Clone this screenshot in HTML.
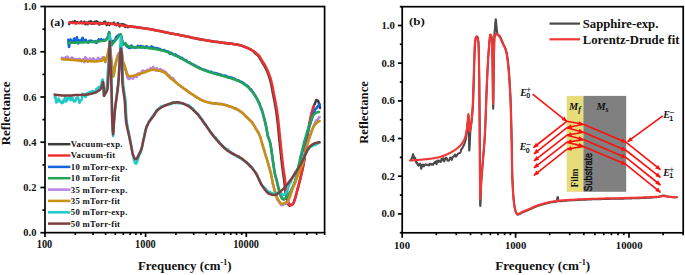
<!DOCTYPE html>
<html><head><meta charset="utf-8"><title>Reflectance spectra</title>
<style>
html,body{margin:0;padding:0;background:#fff;}
body{width:685px;height:275px;overflow:hidden;font-family:"Liberation Serif",serif;}
svg{display:block;}
svg text{font-family:"Liberation Serif",serif;font-weight:bold;fill:#111;}
</style></head><body>
<svg width="685" height="275" viewBox="0 0 685 275">
<rect width="685" height="275" fill="#fff"/>

<!-- ================= panel (a) ================= -->
<g fill="none" stroke-linejoin="round" stroke-linecap="round" stroke-width="2.5">
<path d="M69.2,24.0 L69.5,23.2 L69.9,22.3 L70.2,22.2 L70.6,22.4 L70.9,22.6 L71.3,22.8 L71.6,22.8 L72.0,22.4 L72.3,21.9 L72.7,22.1 L73.0,22.4 L73.4,22.6 L73.7,22.6 L74.1,22.4 L74.4,21.7 L74.8,21.0 L75.1,22.1 L75.5,23.2 L75.8,23.4 L76.2,23.3 L76.5,23.0 L76.9,22.5 L77.2,22.1 L77.6,22.3 L77.9,22.5 L78.3,22.7 L78.6,23.0 L79.0,23.0 L79.3,22.7 L79.7,22.5 L80.0,22.5 L80.4,22.5 L80.7,22.0 L81.1,21.5 L81.4,22.0 L81.8,22.8 L82.1,23.2 L82.5,23.0 L82.8,22.9 L83.2,22.9 L83.5,23.0 L83.9,22.4 L84.2,21.7 L84.6,22.1 L84.9,23.4 L85.3,24.1 L85.6,23.5 L86.0,23.0 L86.3,22.7 L86.7,22.5 L87.0,23.2 L87.4,24.1 L87.7,24.3 L88.1,23.5 L88.4,22.7 L88.8,22.2 L89.1,21.7 L89.5,21.9 L89.8,22.4 L90.0,22.5 L90.2,22.1 L90.5,21.4 L90.9,21.2 L91.2,22.6 L91.6,23.9 L91.9,23.3 L92.3,22.7 L92.6,22.5 L93.0,22.4 L93.3,22.6 L93.7,23.3 L94.0,23.8 L94.4,22.7 L94.7,21.7 L95.1,22.3 L95.4,23.1 L95.8,22.9 L96.1,21.9 L96.5,21.3 L96.8,21.9 L97.2,22.4 L97.5,22.2 L97.9,22.0 L98.2,22.7 L98.6,23.8 L98.9,24.4 L99.3,24.6 L99.6,24.6 L100.0,23.7 L100.3,22.9 L100.7,23.2 L101.0,23.7 L101.4,23.7 L101.7,23.3 L102.1,23.1 L102.4,23.4 L102.8,23.7 L103.1,23.2 L103.5,22.7 L103.8,22.3 L104.2,21.9 L104.5,21.7 L104.9,21.6 L105.2,21.7 L105.6,22.6 L105.9,23.5 L106.3,24.3 L106.6,25.0 L107.0,24.9 L107.3,24.1 L107.7,23.5 L108.0,23.2 L108.4,22.9 L108.7,23.9 L109.1,24.8 L109.3,24.9 L109.4,24.7 L109.8,24.0 L110.1,23.6 L110.5,23.6 L110.8,23.6 L111.2,23.7 L111.5,23.8 L111.9,23.7 L112.2,23.6 L112.6,23.5 L112.9,23.5 L113.3,23.4 L113.6,23.0 L114.0,22.6 L114.3,23.4 L114.7,24.2 L115.0,24.3 L115.4,24.2 L115.7,24.3 L116.1,24.9 L116.4,25.3 L116.8,24.7 L117.1,24.2 L117.5,23.6 L117.8,23.1 L118.2,23.3 L118.5,24.1 L118.9,24.8 L119.2,25.6 L119.6,26.4 L119.9,25.6 L120.3,24.8 L120.6,24.5 L121.0,24.4 L121.3,24.2 L121.7,24.2 L122.0,24.1 L122.1,24.1 L122.4,24.2 L122.7,24.3 L123.1,24.6 L123.4,25.0 L123.8,24.9 L124.1,24.6 L124.5,24.7 L124.8,25.8 L125.2,26.9 L125.5,26.3 L125.9,25.6 L126.2,25.5 L126.6,25.7 L126.9,26.1 L127.3,26.7 L127.6,27.1 L128.0,27.2 L128.3,26.4 L128.7,26.4 L129.0,26.3 L129.4,26.3 L129.7,26.4 L130.1,26.5 L130.4,26.5 L130.8,26.6 L131.1,26.6 L131.5,26.6 L131.8,26.5 L132.2,26.4 L132.5,26.5 L132.9,26.7 L133.2,26.9 L133.6,26.9 L133.9,27.0 L134.3,27.0 L134.6,27.0 L135.0,27.0 L135.0,27.0 L135.3,27.0 L135.7,27.0 L136.0,27.1 L136.4,27.2 L136.7,27.2 L137.1,27.2 L137.4,27.2 L137.8,27.3 L138.1,27.4 L138.5,27.6 L138.8,27.7 L139.2,27.8 L139.5,27.8 L139.9,27.8 L140.2,27.8 L140.6,27.9 L140.9,27.9 L141.3,27.9 L141.6,28.0 L142.0,28.1 L142.3,28.1 L142.7,28.1 L143.0,28.1 L143.4,28.2 L143.7,28.2 L144.1,28.2 L144.4,28.2 L144.8,28.3 L145.1,28.4 L145.5,28.6 L145.8,28.8 L146.2,28.9 L146.5,28.8 L146.9,28.8 L147.2,28.8 L147.6,28.8 L147.9,28.8 L148.3,28.9 L148.6,28.9 L149.0,28.9 L149.3,29.0 L149.7,29.1 L150.0,29.3 L150.0,29.3 L150.4,29.3 L150.7,29.4 L151.1,29.3 L151.4,29.3 L151.8,29.4 L152.1,29.6 L152.5,29.7 L152.8,29.7 L153.2,29.7 L153.5,29.9 L153.9,30.1 L154.2,30.1 L154.6,30.1 L154.9,30.2 L155.3,30.3 L155.6,30.5 L156.0,30.4 L156.3,30.3 L156.7,30.4 L157.0,30.5 L157.4,30.6 L157.7,30.7 L158.1,30.8 L158.4,30.9 L158.8,31.0 L159.1,31.1 L159.5,31.1 L159.8,31.1 L160.2,31.0 L160.5,31.1 L160.9,31.2 L161.2,31.4 L161.6,31.5 L161.9,31.5 L162.3,31.6 L162.6,31.6 L163.0,31.7 L163.3,31.7 L163.7,31.8 L164.0,32.1 L164.4,32.3 L164.7,32.2 L165.1,32.2 L165.4,32.2 L165.8,32.2 L166.1,32.3 L166.5,32.5 L166.8,32.6 L167.2,32.7 L167.5,32.7 L167.9,32.7 L168.2,32.8 L168.2,32.8 L168.6,32.9 L168.9,33.0 L169.3,33.1 L169.6,33.2 L170.0,33.2 L170.3,33.3 L170.7,33.4 L171.0,33.5 L171.4,33.6 L171.7,33.6 L172.1,33.7 L172.4,33.7 L172.8,33.7 L173.1,33.7 L173.5,33.8 L173.8,33.9 L174.2,33.9 L174.5,34.0 L174.9,34.1 L175.2,34.2 L175.6,34.3 L175.9,34.3 L176.3,34.3 L176.6,34.3 L177.0,34.3 L177.3,34.4 L177.7,34.6 L178.0,34.8 L178.4,34.8 L178.7,34.7 L179.1,34.8 L179.4,34.8 L179.8,34.9 L180.1,35.2 L180.5,35.3 L180.8,35.3 L181.2,35.3 L181.5,35.5 L181.9,35.6 L182.2,35.7 L182.6,35.7 L182.9,35.7 L183.3,35.7 L183.6,35.8 L184.0,35.8 L184.3,35.9 L184.7,36.0 L185.0,36.1 L185.4,36.2 L185.7,36.3 L186.1,36.4 L186.4,36.4 L186.5,36.4 L186.8,36.4 L187.1,36.5 L187.5,36.6 L187.8,36.7 L188.2,36.7 L188.5,36.7 L188.9,36.9 L189.2,37.0 L189.6,37.0 L189.9,37.0 L190.3,37.1 L190.6,37.3 L191.0,37.4 L191.3,37.6 L191.7,37.7 L192.0,37.8 L192.4,37.9 L192.7,38.0 L193.1,38.1 L193.4,38.0 L193.8,37.9 L194.1,37.9 L194.5,38.1 L194.8,38.3 L195.2,38.4 L195.5,38.5 L195.9,38.6 L196.2,38.7 L196.6,38.6 L196.9,38.6 L197.3,38.6 L197.6,38.8 L198.0,38.9 L198.3,39.1 L198.7,39.2 L199.0,39.2 L199.4,39.0 L199.7,39.0 L200.1,39.2 L200.4,39.4 L200.8,39.5 L201.1,39.6 L201.5,39.6 L201.8,39.5 L202.2,39.6 L202.5,39.8 L202.9,39.8 L203.2,39.8 L203.6,39.7 L203.9,39.8 L204.3,39.9 L204.6,40.0 L204.7,40.0 L205.0,40.0 L205.3,40.1 L205.7,40.2 L206.0,40.4 L206.4,40.4 L206.7,40.4 L207.1,40.5 L207.4,40.7 L207.8,40.7 L208.1,40.6 L208.5,40.6 L208.8,40.7 L209.2,40.8 L209.5,40.9 L209.9,41.1 L210.2,41.1 L210.6,41.1 L210.9,41.1 L211.3,41.1 L211.6,41.0 L212.0,41.2 L212.3,41.4 L212.7,41.4 L213.0,41.4 L213.4,41.4 L213.7,41.5 L214.1,41.6 L214.4,41.7 L214.8,41.7 L215.1,41.8 L215.5,41.9 L215.8,41.9 L216.2,41.9 L216.5,41.9 L216.9,41.8 L217.2,41.7 L217.6,41.8 L217.9,41.9 L218.3,42.1 L218.6,42.2 L219.0,42.3 L219.3,42.3 L219.7,42.3 L220.0,42.5 L220.4,42.6 L220.7,42.6 L221.1,42.6 L221.4,42.6 L221.8,42.6 L222.1,42.6 L222.5,42.8 L222.8,42.9 L223.0,42.9 L223.2,42.8 L223.5,42.8 L223.9,42.7 L224.2,42.7 L224.6,42.9 L224.9,43.2 L225.3,43.3 L225.6,43.1 L226.0,42.9 L226.3,43.1 L226.7,43.3 L227.0,43.4 L227.4,43.5 L227.7,43.5 L228.1,43.5 L228.4,43.5 L228.8,43.4 L229.1,43.3 L229.5,43.5 L229.8,43.7 L230.2,43.7 L230.5,43.6 L230.9,43.5 L231.2,43.6 L231.6,43.6 L231.9,43.7 L232.3,43.8 L232.6,43.9 L233.0,44.1 L233.3,44.1 L233.7,44.1 L234.0,44.2 L234.4,44.2 L234.7,44.3 L235.1,44.3 L235.4,44.3 L235.8,44.3 L236.1,44.4 L236.5,44.5 L236.8,44.5 L237.2,44.5 L237.5,44.6 L237.6,44.6 L237.9,44.7 L238.2,44.8 L238.6,45.0 L238.9,45.1 L239.3,45.1 L239.6,45.1 L240.0,45.3 L240.3,45.4 L240.7,45.5 L241.0,45.5 L241.4,45.6 L241.7,45.7 L242.1,45.8 L242.4,46.0 L242.8,46.1 L243.1,46.2 L243.5,46.3 L243.8,46.5 L244.2,46.7 L244.5,46.8 L244.9,46.9 L245.2,47.1 L245.6,47.3 L245.9,47.6 L246.3,47.6 L246.6,47.6 L247.0,47.7 L247.3,47.9 L247.7,48.0 L248.0,48.1 L248.4,48.2 L248.5,48.3 L248.7,48.4 L249.1,48.7 L249.4,48.9 L249.8,49.1 L250.1,49.3 L250.5,49.4 L250.8,49.5 L251.2,49.7 L251.5,50.0 L251.9,50.3 L252.2,50.5 L252.6,50.7 L252.9,50.9 L253.3,51.1 L253.6,51.3 L254.0,51.5 L254.3,51.9 L254.7,52.2 L254.1,52.5 L254.5,52.7 L254.8,52.9 L254.9,52.9 L255.2,53.2 L255.5,53.5 L255.9,53.8 L256.2,54.1 L256.6,54.4 L256.9,54.7 L257.3,54.9 L257.6,55.2 L258.0,55.5 L258.3,55.8 L258.6,56.1 L258.7,56.2 L259.0,56.8 L259.4,57.5 L259.7,58.1 L260.1,58.8 L260.4,59.2 L260.4,59.3 L260.8,59.8 L261.1,60.3 L261.5,61.1 L261.8,61.8 L262.2,62.3 L262.5,62.8 L262.9,63.4 L263.2,64.0 L263.6,64.5 L263.9,65.0 L264.3,65.5 L264.6,66.2 L265.0,67.0 L265.3,67.7 L265.7,68.3 L265.9,68.6 L266.0,68.9 L266.4,69.7 L266.7,70.5 L267.1,71.3 L267.4,72.0 L267.8,72.9 L268.1,73.9 L268.5,74.9 L268.8,75.9 L269.2,76.9 L269.5,78.0 L269.9,79.2 L270.2,80.4 L270.6,81.7 L270.7,82.1 L270.9,83.0 L271.3,84.6 L271.6,86.4 L272.0,88.3 L272.3,90.3 L272.7,92.2 L273.0,94.0 L273.1,94.2 L273.4,95.8 L273.7,97.5 L274.1,99.3 L274.4,101.1 L274.8,102.9 L275.1,104.8 L275.5,106.8 L275.8,108.9 L276.2,111.1 L276.4,112.5 L276.5,113.5 L276.9,116.2 L277.2,119.2 L277.6,122.1 L277.9,124.7 L277.9,125.2 L278.3,128.6 L278.6,132.2 L279.0,135.9 L279.3,139.5 L279.7,143.0 L280.0,146.4 L280.3,148.7 L280.4,149.6 L280.7,152.9 L281.1,156.1 L281.4,159.4 L281.8,162.6 L282.1,165.6 L282.5,168.4 L282.7,169.9 L282.8,171.1 L283.2,173.5 L283.5,175.9 L283.9,178.2 L283.9,178.2 L284.2,180.9 L284.6,183.8 L284.9,186.9 L285.3,189.9 L285.6,192.7 L286.0,195.1 L286.3,197.1 L286.6,198.2 L286.7,198.6 L287.0,200.0 L287.4,201.4 L287.7,202.6 L288.1,203.7 L288.4,204.6 L288.8,205.1 L289.1,205.4 L289.4,205.5 L289.5,205.5 L289.8,205.5 L290.2,205.2 L290.5,204.9 L290.9,204.7 L292.1,204.6 L292.5,204.4 L292.8,204.0 L293.0,203.8 L293.2,203.5 L293.5,202.8 L293.9,201.9 L294.2,201.0 L294.6,200.0 L294.9,199.0 L295.3,197.8 L295.6,196.6 L296.0,195.4 L296.3,194.1 L296.7,192.6 L297.0,191.2 L297.4,189.9 L297.6,189.2 L297.7,188.7 L298.1,187.4 L298.4,186.0 L298.8,184.6 L299.1,183.2 L299.5,181.9 L299.8,180.5 L300.2,179.3 L300.5,177.9 L300.9,176.4 L301.2,174.8 L301.6,173.3 L301.9,171.7 L302.1,171.0 L302.3,170.2 L302.6,168.7 L303.0,167.0 L303.3,165.2 L303.7,163.3 L304.0,161.4 L304.3,159.9 L304.4,159.3 L304.7,156.8 L305.1,154.0 L305.4,150.9 L305.8,147.8 L306.1,144.7 L306.5,141.8 L306.6,141.1 L306.8,139.3 L307.2,137.1 L307.5,135.0 L307.9,132.8 L308.2,130.6 L308.6,128.5 L308.7,128.0 L308.9,126.6 L309.3,124.7 L309.6,122.7 L310.0,120.9 L310.3,119.0 L310.6,117.8 L310.7,117.3 L311.0,115.8 L311.4,114.5 L311.7,113.1 L312.1,111.8 L312.4,110.5 L312.8,109.2 L313.0,108.5 L313.1,108.0 L313.5,106.9 L313.8,105.9 L314.2,105.0 L314.2,105.0 L314.5,104.3 L314.9,103.6 L315.2,102.8 L315.2,102.7 L315.6,101.6 L315.9,100.7 L316.3,100.1 L316.4,100.1 L316.6,100.1 L317.0,100.3 L317.3,100.5 L317.7,100.6 L318.0,100.8 L318.0,100.9 L318.4,101.6 L318.7,102.5 L319.1,103.6 L319.4,104.6 L319.4,104.8 L319.8,106.7 L320.0,108.0" stroke="#3d3d3d"/>
<path d="M69.2,22.8 L69.5,22.8 L69.9,22.8 L70.2,22.8 L70.6,22.8 L70.9,22.8 L71.3,22.8 L71.6,22.8 L72.0,22.8 L72.3,22.9 L72.7,22.9 L73.0,22.9 L73.4,22.9 L73.7,22.9 L74.1,22.9 L74.4,22.9 L74.8,22.9 L75.1,22.9 L75.5,22.9 L75.8,22.9 L76.2,22.9 L76.5,22.9 L76.9,22.9 L77.2,22.9 L77.6,22.9 L77.9,23.0 L78.3,23.0 L78.6,23.0 L79.0,23.0 L79.3,23.0 L79.7,23.0 L80.0,23.0 L80.4,23.0 L80.7,23.0 L81.1,23.0 L81.4,23.0 L81.8,23.0 L82.1,23.0 L82.5,23.0 L82.8,23.0 L83.2,23.1 L83.5,23.1 L83.9,23.1 L84.2,23.1 L84.6,23.1 L84.9,23.1 L85.3,23.1 L85.6,23.1 L86.0,23.1 L86.3,23.1 L86.7,23.1 L87.0,23.1 L87.4,23.1 L87.7,23.2 L88.1,23.2 L88.4,23.2 L88.8,23.2 L89.1,23.2 L89.5,23.2 L89.8,23.2 L90.0,23.2 L90.2,23.2 L90.5,23.2 L90.9,23.2 L91.2,23.2 L91.6,23.2 L91.9,23.2 L92.3,23.2 L92.6,23.3 L93.0,23.3 L93.3,23.3 L93.7,23.3 L94.0,23.3 L94.4,23.3 L94.7,23.3 L95.1,23.3 L95.4,23.3 L95.8,23.3 L96.1,23.3 L96.5,23.3 L96.8,23.3 L97.2,23.3 L97.5,23.3 L97.9,23.4 L98.2,23.4 L98.6,23.4 L98.9,23.4 L99.3,23.4 L99.6,23.4 L100.0,23.4 L100.3,23.4 L100.7,23.4 L101.0,23.4 L101.4,23.4 L101.7,23.4 L102.1,23.5 L102.4,23.5 L102.8,23.5 L103.1,23.5 L103.5,23.5 L103.8,23.5 L104.2,23.5 L104.5,23.5 L104.9,23.5 L105.2,23.5 L105.6,23.6 L105.9,23.6 L106.3,23.6 L106.6,23.6 L107.0,23.6 L107.3,23.6 L107.7,23.6 L108.0,23.6 L108.4,23.7 L108.7,23.7 L109.1,23.7 L109.3,23.7 L109.4,23.7 L109.8,23.7 L110.1,23.8 L110.5,23.8 L110.8,23.8 L111.2,23.8 L111.5,23.9 L111.9,23.9 L112.2,24.0 L112.6,24.0 L112.9,24.0 L113.3,24.1 L113.6,24.1 L114.0,24.2 L114.3,24.3 L114.7,24.3 L115.0,24.4 L115.4,24.4 L115.7,24.5 L116.1,24.5 L116.4,24.6 L116.8,24.7 L117.1,24.7 L117.5,24.8 L117.8,24.8 L118.2,24.9 L118.5,25.0 L118.9,25.0 L119.2,25.1 L119.6,25.1 L119.9,25.2 L120.3,25.2 L120.6,25.3 L121.0,25.3 L121.3,25.4 L121.7,25.4 L122.0,25.5 L122.1,25.5 L122.4,25.5 L122.7,25.6 L123.1,25.6 L123.4,25.7 L123.8,25.7 L124.1,25.8 L124.5,25.8 L124.8,25.8 L125.2,25.9 L125.5,25.9 L125.9,26.0 L126.2,26.0 L126.6,26.0 L126.9,26.1 L127.3,26.1 L127.6,26.1 L128.0,26.2 L128.3,26.2 L128.7,26.3 L129.0,26.3 L129.4,26.3 L129.7,26.4 L130.1,26.4 L130.4,26.5 L130.8,26.5 L131.1,26.5 L131.5,26.6 L131.8,26.6 L132.2,26.7 L132.5,26.7 L132.9,26.7 L133.2,26.8 L133.6,26.8 L133.9,26.9 L134.3,26.9 L134.6,27.0 L135.0,27.0 L135.0,27.0 L135.3,27.0 L135.7,27.1 L136.0,27.1 L136.4,27.2 L136.7,27.2 L137.1,27.3 L137.4,27.3 L137.8,27.4 L138.1,27.4 L138.5,27.5 L138.8,27.5 L139.2,27.6 L139.5,27.6 L139.9,27.7 L140.2,27.7 L140.6,27.8 L140.9,27.8 L141.3,27.9 L141.6,27.9 L142.0,28.0 L142.3,28.0 L142.7,28.1 L143.0,28.1 L143.4,28.2 L143.7,28.2 L144.1,28.3 L144.4,28.3 L144.8,28.4 L145.1,28.4 L145.5,28.5 L145.8,28.5 L146.2,28.6 L146.5,28.6 L146.9,28.7 L147.2,28.8 L147.6,28.8 L147.9,28.9 L148.3,28.9 L148.6,29.0 L149.0,29.0 L149.3,29.1 L149.7,29.1 L150.0,29.2 L150.0,29.2 L150.4,29.3 L150.7,29.3 L151.1,29.4 L151.4,29.4 L151.8,29.5 L152.1,29.6 L152.5,29.6 L152.8,29.7 L153.2,29.8 L153.5,29.8 L153.9,29.9 L154.2,30.0 L154.6,30.0 L154.9,30.1 L155.3,30.2 L155.6,30.2 L156.0,30.3 L156.3,30.4 L156.7,30.4 L157.0,30.5 L157.4,30.6 L157.7,30.7 L158.1,30.7 L158.4,30.8 L158.8,30.9 L159.1,30.9 L159.5,31.0 L159.8,31.1 L160.2,31.2 L160.5,31.2 L160.9,31.3 L161.2,31.4 L161.6,31.4 L161.9,31.5 L162.3,31.6 L162.6,31.7 L163.0,31.7 L163.3,31.8 L163.7,31.9 L164.0,32.0 L164.4,32.0 L164.7,32.1 L165.1,32.2 L165.4,32.2 L165.8,32.3 L166.1,32.4 L166.5,32.5 L166.8,32.5 L167.2,32.6 L167.5,32.7 L167.9,32.7 L168.2,32.8 L168.2,32.8 L168.6,32.9 L168.9,33.0 L169.3,33.0 L169.6,33.1 L170.0,33.2 L170.3,33.2 L170.7,33.3 L171.0,33.4 L171.4,33.4 L171.7,33.5 L172.1,33.6 L172.4,33.7 L172.8,33.7 L173.1,33.8 L173.5,33.9 L173.8,33.9 L174.2,34.0 L174.5,34.1 L174.9,34.2 L175.2,34.2 L175.6,34.3 L175.9,34.4 L176.3,34.4 L176.6,34.5 L177.0,34.6 L177.3,34.6 L177.7,34.7 L178.0,34.8 L178.4,34.9 L178.7,34.9 L179.1,35.0 L179.4,35.1 L179.8,35.1 L180.1,35.2 L180.5,35.3 L180.8,35.4 L181.2,35.4 L181.5,35.5 L181.9,35.6 L182.2,35.6 L182.6,35.7 L182.9,35.8 L183.3,35.9 L183.6,35.9 L184.0,36.0 L184.3,36.1 L184.7,36.1 L185.0,36.2 L185.4,36.3 L185.7,36.3 L186.1,36.4 L186.4,36.5 L186.5,36.5 L186.8,36.6 L187.1,36.6 L187.5,36.7 L187.8,36.8 L188.2,36.8 L188.5,36.9 L188.9,37.0 L189.2,37.1 L189.6,37.1 L189.9,37.2 L190.3,37.3 L190.6,37.3 L191.0,37.4 L191.3,37.5 L191.7,37.6 L192.0,37.6 L192.4,37.7 L192.7,37.8 L193.1,37.9 L193.4,37.9 L193.8,38.0 L194.1,38.1 L194.5,38.1 L194.8,38.2 L195.2,38.3 L195.5,38.4 L195.9,38.4 L196.2,38.5 L196.6,38.6 L196.9,38.6 L197.3,38.7 L197.6,38.8 L198.0,38.9 L198.3,38.9 L198.7,39.0 L199.0,39.1 L199.4,39.1 L199.7,39.2 L200.1,39.3 L200.4,39.3 L200.8,39.4 L201.1,39.5 L201.5,39.5 L201.8,39.6 L202.2,39.7 L202.5,39.7 L202.9,39.8 L203.2,39.8 L203.6,39.9 L203.9,40.0 L204.3,40.0 L204.6,40.1 L204.7,40.1 L205.0,40.2 L205.3,40.2 L205.7,40.3 L206.0,40.3 L206.4,40.4 L206.7,40.4 L207.1,40.5 L207.4,40.6 L207.8,40.6 L208.1,40.7 L208.5,40.7 L208.8,40.8 L209.2,40.8 L209.5,40.9 L209.9,40.9 L210.2,41.0 L210.6,41.0 L210.9,41.1 L211.3,41.1 L211.6,41.2 L212.0,41.3 L212.3,41.3 L212.7,41.4 L213.0,41.4 L213.4,41.5 L213.7,41.5 L214.1,41.6 L214.4,41.6 L214.8,41.7 L215.1,41.7 L215.5,41.8 L215.8,41.8 L216.2,41.9 L216.5,41.9 L216.9,42.0 L217.2,42.0 L217.6,42.1 L217.9,42.1 L218.3,42.2 L218.6,42.2 L219.0,42.2 L219.3,42.3 L219.7,42.3 L220.0,42.4 L220.4,42.4 L220.7,42.5 L221.1,42.5 L221.4,42.6 L221.8,42.6 L222.1,42.7 L222.5,42.7 L222.8,42.8 L223.0,42.8 L223.2,42.8 L223.5,42.9 L223.9,42.9 L224.2,43.0 L224.6,43.0 L224.9,43.1 L225.3,43.1 L225.6,43.1 L226.0,43.2 L226.3,43.2 L226.7,43.3 L227.0,43.3 L227.4,43.3 L227.7,43.4 L228.1,43.4 L228.4,43.4 L228.8,43.5 L229.1,43.5 L229.5,43.6 L229.8,43.6 L230.2,43.6 L230.5,43.7 L230.9,43.7 L231.2,43.8 L231.6,43.8 L231.9,43.8 L232.3,43.9 L232.6,43.9 L233.0,44.0 L233.3,44.0 L233.7,44.1 L234.0,44.1 L234.4,44.2 L234.7,44.2 L235.1,44.3 L235.4,44.3 L235.8,44.4 L236.1,44.4 L236.5,44.5 L236.8,44.6 L237.2,44.6 L237.5,44.7 L237.6,44.7 L237.9,44.8 L238.2,44.8 L238.6,44.9 L238.9,45.0 L239.3,45.1 L239.6,45.2 L240.0,45.3 L240.3,45.4 L240.7,45.5 L241.0,45.6 L241.4,45.7 L241.7,45.8 L242.1,45.9 L242.4,46.0 L242.8,46.1 L243.1,46.2 L243.5,46.4 L243.8,46.5 L244.2,46.6 L244.5,46.8 L244.9,46.9 L245.2,47.0 L245.6,47.2 L245.9,47.3 L246.3,47.5 L246.6,47.6 L247.0,47.7 L247.3,47.9 L247.7,48.0 L248.0,48.2 L248.4,48.4 L248.5,48.4 L248.7,48.5 L249.1,48.7 L249.4,48.8 L249.8,49.0 L250.1,49.2 L250.5,49.4 L250.8,49.6 L251.2,49.8 L251.5,50.0 L251.9,50.2 L252.2,50.4 L252.6,50.7 L252.9,50.9 L253.3,51.1 L253.6,51.4 L254.0,51.6 L254.3,51.8 L254.7,52.1 L255.0,52.3 L255.4,52.6 L255.7,52.9 L255.8,52.9 L256.1,53.1 L256.4,53.4 L256.8,53.6 L257.1,53.9 L257.5,54.2 L257.8,54.5 L258.2,54.8 L258.5,55.2 L258.9,55.5 L259.2,55.9 L259.5,56.2 L259.6,56.3 L259.9,56.8 L260.3,57.5 L260.6,58.1 L261.0,58.8 L261.3,59.3 L261.3,59.4 L261.7,60.0 L262.0,60.5 L262.4,61.1 L262.7,61.7 L263.1,62.2 L263.4,62.8 L263.8,63.3 L264.1,63.9 L264.5,64.4 L264.8,65.0 L265.2,65.6 L265.5,66.3 L265.9,66.9 L266.2,67.6 L266.6,68.3 L266.8,68.7 L266.9,69.0 L267.3,69.8 L267.6,70.6 L268.0,71.4 L268.3,72.2 L268.7,73.1 L269.0,74.0 L269.4,74.9 L269.7,75.9 L270.1,77.0 L270.4,78.0 L270.8,79.2 L271.1,80.4 L271.5,81.6 L271.6,82.0 L271.8,83.0 L272.2,84.6 L272.5,86.3 L272.9,88.2 L273.2,90.2 L273.6,92.1 L273.9,94.0 L274.0,94.3 L274.3,95.9 L274.6,97.6 L275.0,99.4 L275.3,101.1 L275.7,102.9 L276.0,104.8 L276.4,106.7 L276.7,108.8 L277.1,111.0 L277.3,112.3 L277.4,113.4 L277.8,116.1 L278.1,119.1 L278.5,122.3 L278.8,125.0 L278.8,125.5 L279.2,128.8 L279.5,132.2 L279.9,135.7 L280.2,139.3 L280.6,142.9 L280.9,146.3 L281.2,148.7 L281.3,149.6 L281.6,152.9 L282.0,156.2 L282.3,159.4 L282.7,162.6 L283.0,165.6 L283.4,168.4 L283.6,170.0 L283.7,171.1 L284.1,173.5 L284.4,175.8 L284.8,178.2 L284.8,178.2 L285.1,180.9 L285.5,183.8 L285.8,186.8 L286.2,189.8 L286.5,192.6 L286.9,195.1 L287.2,197.2 L287.5,198.3 L287.6,198.7 L287.9,200.0 L288.3,201.3 L288.6,202.5 L289.0,203.6 L289.3,204.5 L289.7,205.1 L290.0,205.5 L290.3,205.6 L290.4,205.6 L290.7,205.5 L291.1,205.4 L291.4,205.2 L291.8,204.9 L292.1,204.6 L292.5,204.3 L292.8,204.0 L293.0,203.8 L293.2,203.6 L293.5,203.0 L293.9,202.2 L294.2,201.3 L294.6,200.3 L294.9,199.2 L295.3,197.9 L295.6,196.7 L296.0,195.3 L296.3,193.9 L296.7,192.6 L297.0,191.2 L297.4,189.9 L297.6,189.2 L297.7,188.7 L298.1,187.4 L298.4,186.1 L298.8,184.8 L299.1,183.4 L299.5,182.0 L299.8,180.6 L300.2,179.2 L300.5,177.8 L300.9,176.3 L301.2,174.8 L301.6,173.2 L301.9,171.7 L302.1,171.0 L302.3,170.1 L302.6,168.5 L303.0,166.9 L303.3,165.2 L303.7,163.4 L304.0,161.5 L304.3,160.0 L304.4,159.4 L304.7,156.8 L305.1,153.9 L305.4,150.7 L305.8,147.6 L306.1,144.5 L306.5,141.7 L306.6,141.0 L306.8,139.3 L307.2,137.0 L307.5,134.8 L307.9,132.6 L308.2,130.6 L308.6,128.6 L308.7,128.0 L308.9,126.6 L309.3,124.6 L309.6,122.7 L310.0,120.9 L310.3,119.2 L310.6,118.0 L310.7,117.5 L311.0,116.0 L311.4,114.5 L311.7,113.0 L312.1,111.7 L312.4,110.4 L312.8,109.2 L313.0,108.5 L313.1,108.0 L313.5,107.0 L313.8,106.1 L313.9,106.0" stroke="#ef3030"/>
<path d="M68.3,39.7 L68.6,43.4 L69.0,47.0 L69.3,45.4 L69.7,41.8 L70.0,39.6 L70.4,39.5 L70.7,39.5 L71.1,40.6 L71.4,41.7 L71.8,42.2 L72.1,42.5 L72.5,42.4 L72.8,42.0 L73.2,41.3 L73.5,40.1 L73.9,38.9 L74.2,38.6 L74.6,38.4 L74.9,39.6 L75.3,41.4 L75.6,42.2 L76.0,41.5 L76.3,40.7 L76.7,39.0 L77.0,37.3 L77.4,39.6 L77.7,42.5 L78.1,43.5 L78.4,43.1 L78.8,42.5 L79.1,41.4 L79.5,40.3 L79.8,40.3 L80.2,40.3 L80.5,40.6 L80.9,41.1 L81.2,41.0 L81.6,40.0 L81.9,39.1 L82.3,38.4 L82.6,37.7 L83.0,39.0 L83.3,40.8 L83.7,40.5 L84.0,40.1 L84.4,39.9 L84.7,40.4 L85.0,40.8 L85.1,41.0 L85.4,40.4 L85.8,39.8 L86.1,41.0 L86.5,41.4 L86.8,41.6 L87.2,41.6 L87.5,41.7 L87.9,42.3 L88.2,42.8 L88.6,42.1 L88.9,41.3 L89.3,40.8 L89.6,40.7 L90.0,40.6 L90.3,40.9 L90.7,41.1 L91.0,40.9 L91.4,40.7 L91.7,40.8 L92.1,40.9 L92.4,41.1 L92.8,41.4 L93.1,41.7 L93.5,41.8 L93.8,41.9 L94.2,42.1 L94.5,42.3 L94.9,42.0 L95.2,41.2 L95.6,41.0 L95.9,42.0 L96.3,43.0 L96.6,42.8 L97.0,42.5 L97.3,42.0 L97.7,41.3 L98.0,40.7 L98.0,40.6 L98.4,39.9 L98.7,39.4 L99.1,40.0 L99.4,40.7 L99.8,40.7 L100.1,40.7 L100.5,40.3 L100.8,39.5 L101.2,39.1 L101.5,39.8 L101.9,40.5 L102.0,40.4 L102.2,40.3 L102.6,40.2 L102.9,40.0 L103.3,39.8 L103.6,39.9 L104.0,40.3 L104.3,40.6 L104.5,40.6 L104.7,40.6 L105.0,40.6 L105.4,40.1 L105.7,39.5 L106.0,39.2 L106.1,39.2 L106.4,39.2 L106.8,39.0 L107.1,38.3 L107.5,37.5 L107.5,37.5 L107.8,36.9 L108.2,35.9 L108.5,35.1 L108.5,34.9 L108.9,32.7 L109.1,32.1 L109.2,32.5 L109.6,35.0 L109.7,35.8 L109.9,37.6 L110.3,39.9 L110.4,40.4 L110.6,41.6 L111.0,43.0 L111.3,43.4 L111.4,43.4 L111.7,42.6 L112.0,43.1 L112.4,43.0 L112.7,41.8 L113.0,41.0 L113.1,40.7 L113.4,40.8 L113.8,40.9 L114.1,40.9 L114.5,41.0 L114.8,40.6 L115.2,39.6 L115.5,38.7 L115.9,37.9 L116.0,37.7 L116.2,37.1 L116.6,36.6 L116.9,36.1 L117.3,36.1 L117.6,36.5 L118.0,36.5 L118.3,35.7 L118.5,35.4 L118.7,34.9 L119.0,35.6 L119.4,35.2 L119.7,34.8 L120.1,34.6 L120.4,34.3 L120.5,34.3 L120.8,34.5 L121.1,35.4 L121.4,36.4 L121.5,36.8 L121.8,38.8 L122.2,40.6 L122.2,40.6 L122.5,43.7 L122.9,44.5 L123.1,44.4 L123.2,44.1 L123.6,43.6 L123.9,43.7 L124.3,43.9 L124.3,43.9 L124.6,44.1 L125.0,44.2 L125.3,44.2 L125.3,44.2 L125.7,44.5 L126.0,45.1 L126.4,45.8 L126.7,46.4 L126.8,46.4 L127.1,46.5 L127.4,46.6 L127.8,46.9 L128.1,47.2 L128.5,47.5 L128.8,47.9 L129.2,48.0 L129.3,47.9 L129.5,47.6 L129.9,47.2 L130.2,47.4 L130.6,47.7 L130.9,47.6 L131.3,45.5 L131.6,45.7 L132.0,46.6 L132.3,47.3 L132.7,47.1 L133.0,46.8 L133.4,47.0 L133.7,47.1 L134.1,47.4 L134.4,47.7 L134.8,47.9 L134.9,47.9 L135.1,47.8 L135.5,47.7 L135.8,47.3 L136.2,46.9 L136.5,47.0 L136.9,47.3 L137.2,47.1 L137.6,46.4 L137.9,45.9 L138.3,46.5 L138.6,47.1 L139.0,47.1 L139.3,47.0 L139.7,46.6 L140.0,46.1 L140.4,45.9 L140.7,46.8 L141.1,47.7 L141.4,47.1 L141.8,46.5 L142.0,46.4 L142.1,46.6 L142.5,47.0 L142.8,47.2 L143.2,46.8 L143.5,46.6 L143.9,47.1 L144.2,47.6 L144.6,47.7 L144.9,47.9 L145.3,47.6 L145.6,47.0 L146.0,46.5 L146.3,46.4 L146.7,46.2 L147.0,46.7 L147.4,47.2 L147.7,47.6 L148.1,47.9 L148.4,48.0 L148.8,47.7 L149.1,47.4 L149.5,47.4 L149.8,47.4 L150.0,47.5 L150.2,47.7 L150.5,48.1 L150.9,47.7 L151.2,46.8 L151.6,46.3 L151.9,47.0 L152.3,47.7 L152.6,47.5 L153.0,47.3 L153.3,47.7 L153.7,48.3 L154.0,48.5 L154.4,48.2 L154.7,48.0 L155.1,47.9 L155.4,47.9 L155.8,48.1 L156.1,48.4 L156.5,48.4 L156.8,48.1 L157.2,48.0 L157.5,48.5 L157.9,49.0 L158.2,48.9 L158.6,48.8 L158.9,48.8 L159.3,49.0 L159.6,49.1 L160.0,49.0 L160.3,49.1 L160.7,49.7 L161.0,50.2 L161.4,50.1 L161.7,49.9 L162.1,49.9 L162.4,50.2 L162.8,50.4 L163.1,50.5 L163.5,50.6 L163.8,50.3 L164.2,49.9 L164.5,50.2 L164.6,50.3 L164.9,50.7 L165.2,51.1 L165.6,51.1 L165.9,51.2 L166.3,51.3 L166.6,51.4 L167.0,51.4 L167.3,51.3 L167.7,51.3 L168.0,51.4 L168.2,51.5 L168.4,51.7 L168.7,52.2 L169.1,52.7 L169.4,53.3 L169.8,53.9 L170.1,53.5 L170.5,52.7 L170.8,52.5 L171.2,53.1 L171.5,53.6 L171.9,53.4 L172.2,53.3 L172.6,53.7 L172.9,54.3 L173.3,54.5 L173.6,54.6 L174.0,54.7 L174.3,55.1 L174.7,55.4 L175.0,54.7 L175.4,54.3 L175.7,54.6 L176.1,55.0 L176.4,55.3 L176.8,55.5 L177.1,55.6 L177.5,55.9 L177.8,56.2 L178.2,56.3 L178.5,56.4 L178.9,56.6 L179.2,56.7 L179.6,57.0 L179.9,57.3 L180.3,57.7 L180.6,58.0 L181.0,58.4 L181.3,58.2 L181.7,57.7 L182.0,57.7 L182.4,58.2 L182.7,58.7 L182.8,58.7 L183.1,59.0 L183.4,59.2 L183.8,59.4 L184.1,59.6 L184.5,59.7 L184.8,59.9 L185.2,60.0 L185.5,60.1 L185.9,60.2 L186.2,60.4 L186.5,60.6 L186.6,60.7 L186.9,61.0 L187.3,61.4 L187.6,61.8 L188.0,62.0 L188.3,62.2 L188.7,62.3 L189.0,62.3 L189.4,62.4 L189.7,62.5 L190.1,62.7 L190.4,63.0 L190.8,63.3 L191.1,63.4 L191.5,63.6 L191.8,63.8 L192.2,64.1 L192.5,64.3 L192.9,64.5 L193.2,64.6 L193.6,64.7 L193.9,64.8 L194.3,65.1 L194.6,65.4 L195.0,65.4 L195.3,65.4 L195.7,65.7 L196.0,66.1 L196.4,66.5 L196.7,66.7 L197.1,66.9 L197.4,66.8 L197.8,66.7 L198.1,66.9 L198.5,67.3 L198.8,67.5 L199.2,67.5 L199.5,67.5 L199.9,68.0 L200.2,68.4 L200.6,68.6 L200.9,68.7 L201.3,68.8 L201.6,68.8 L202.0,68.9 L202.3,69.2 L202.7,69.5 L203.0,69.5 L203.4,69.4 L203.7,69.5 L204.1,69.6 L204.4,69.7 L204.7,69.8 L204.8,69.9 L205.1,70.0 L205.5,70.2 L205.8,70.4 L206.2,70.5 L206.5,70.6 L206.9,70.7 L207.2,70.9 L207.6,71.0 L207.9,71.1 L208.3,71.1 L208.6,71.4 L209.0,71.7 L209.3,71.8 L209.7,72.0 L210.0,72.0 L210.4,71.9 L210.7,71.8 L211.1,71.8 L211.4,71.8 L211.8,72.1 L212.1,72.5 L212.5,72.8 L212.8,72.9 L213.2,73.0 L213.5,72.9 L213.9,72.9 L214.2,72.8 L214.6,72.8 L214.9,73.0 L215.3,73.3 L215.6,73.6 L216.0,73.8 L216.3,74.0 L216.7,73.6 L217.0,73.3 L217.4,73.6 L217.7,74.0 L218.1,74.2 L218.4,74.2 L218.8,74.2 L219.1,74.2 L219.5,74.2 L219.8,74.5 L220.2,74.8 L220.5,74.8 L220.9,74.6 L221.2,74.7 L221.6,75.0 L221.9,75.3 L222.3,75.5 L222.6,75.8 L223.0,75.8 L223.0,75.8 L223.3,75.7 L223.7,75.7 L224.0,75.7 L224.4,75.6 L224.7,75.6 L225.1,75.6 L225.4,75.8 L225.8,75.9 L226.1,76.0 L226.5,76.0 L226.8,76.3 L227.2,76.8 L227.5,77.3 L227.9,77.1 L228.2,77.0 L228.6,76.9 L228.9,76.9 L229.3,77.0 L229.6,77.0 L230.0,77.1 L230.3,77.3 L230.7,77.4 L231.0,77.6 L231.4,77.8 L231.7,77.8 L232.1,77.8 L232.4,78.0 L232.8,78.5 L233.1,78.9 L233.5,78.7 L233.8,78.5 L234.2,78.6 L234.5,78.7 L234.9,78.9 L235.2,79.2 L235.6,79.4 L235.9,79.7 L236.3,80.0 L236.6,80.1 L237.0,80.3 L237.3,80.2 L237.6,80.2 L237.7,80.1 L238.0,80.2 L238.4,80.4 L238.7,80.7 L239.1,80.8 L239.4,81.0 L239.8,81.2 L240.1,81.4 L240.5,81.6 L240.8,81.8 L241.2,81.9 L241.5,81.9 L241.9,82.0 L242.2,82.1 L242.6,82.3 L242.9,82.6 L243.3,83.0 L243.6,83.3 L244.0,83.3 L244.3,83.5 L244.7,84.0 L245.0,84.6 L245.4,84.8 L245.7,84.9 L246.1,85.0 L246.4,85.1 L246.7,85.2 L246.8,85.3 L247.1,85.7 L247.5,86.1 L247.8,86.3 L248.2,86.6 L248.5,87.0 L248.9,87.4 L249.2,87.8 L249.6,88.3 L249.9,88.8 L250.3,88.9 L250.6,89.0 L251.0,89.3 L251.3,89.6 L251.7,90.2 L252.0,90.9 L252.4,91.6 L252.7,92.0 L253.1,92.4 L253.4,92.9 L253.8,93.5 L254.0,93.8 L254.1,94.0 L254.5,94.5 L254.8,95.1 L255.2,95.5 L255.5,96.0 L255.9,96.8 L256.2,97.5 L256.6,97.9 L256.9,98.4 L257.3,99.0 L257.6,99.8 L258.0,100.5 L258.3,101.1 L258.7,101.8 L259.0,102.5 L259.4,103.2 L259.7,104.2 L260.1,105.7 L260.4,106.7 L260.8,107.6 L261.1,108.4 L261.3,108.7 L261.5,109.0 L261.8,109.7 L262.2,110.8 L262.5,112.0 L262.9,113.3 L263.2,114.7 L263.6,116.2 L263.9,117.6 L264.3,119.0 L264.6,120.2 L265.0,121.4 L265.3,122.9 L265.7,124.5 L265.8,124.9 L266.0,126.1 L266.4,127.8 L266.7,129.7 L267.1,132.3 L267.4,134.6 L267.7,135.6 L267.8,135.9 L268.1,136.9 L268.5,137.8 L268.8,138.8 L269.2,139.8 L269.5,140.8 L269.9,141.9 L270.2,143.2 L270.3,143.4 L270.6,144.9 L270.9,147.0 L271.3,149.3 L271.6,151.8 L272.0,154.3 L272.3,156.8 L272.7,159.5 L273.0,161.7 L273.0,162.0 L273.4,164.3 L273.7,166.5 L274.1,168.9 L274.4,171.3 L274.8,173.3 L275.1,174.8 L275.2,175.0 L275.5,176.0 L275.8,177.3 L276.2,178.5 L276.5,179.8 L276.6,180.0 L276.9,181.2 L277.2,182.8 L277.6,184.3 L277.9,185.9 L278.3,187.3 L278.6,188.7 L279.0,190.0 L279.3,191.3 L279.7,192.6 L280.0,193.9 L280.4,195.0 L280.7,195.8 L281.1,196.4 L281.1,196.4 L281.4,197.2 L281.8,198.0 L282.1,198.4 L282.5,198.7 L282.8,199.0 L283.2,199.3 L283.5,199.5 L283.9,199.4 L283.9,199.4 L284.2,199.3 L284.6,199.0 L284.9,198.7 L285.3,198.5 L285.6,198.4 L286.0,198.2 L286.3,197.9 L286.7,197.5 L287.0,196.9 L287.4,196.3 L287.7,195.7 L288.1,195.1 L288.4,194.7 L288.4,194.7 L288.8,194.4 L289.1,194.0 L289.5,193.3 L289.8,192.5 L290.2,192.1 L290.5,191.6 L290.9,191.0 L291.2,190.1 L291.6,189.3 L291.9,188.6 L292.3,187.8 L292.6,187.3 L293.0,186.7 L293.3,185.9 L293.7,185.0 L294.0,184.2 L294.4,183.5 L294.7,182.7 L294.8,182.5 L295.1,181.3 L295.4,179.9 L295.8,178.5 L296.7,177.1 L297.1,175.5 L297.4,173.8 L297.8,172.0 L298.1,170.2 L298.5,168.4 L298.8,166.7 L299.2,165.0 L299.5,163.6 L299.9,162.3 L300.1,161.6 L300.2,160.9 L300.6,159.2 L300.9,157.6 L301.3,156.4 L301.6,155.2 L302.0,153.8 L302.3,152.4 L302.7,150.8 L303.0,149.1 L303.4,147.6 L303.7,146.5 L304.1,145.3 L304.4,143.8 L304.8,142.3 L305.1,141.0 L305.5,139.9 L305.5,139.9 L305.8,138.6 L306.2,137.2 L306.5,135.9 L306.9,134.8 L307.2,133.8 L307.6,132.5 L307.9,131.1 L308.3,130.0 L308.6,129.1 L309.0,128.2 L309.3,127.0 L309.7,125.9 L310.0,124.7 L310.1,124.6 L310.4,123.6 L310.7,122.5 L311.1,121.4 L311.4,120.2 L311.8,118.9 L312.1,117.7 L312.5,116.5 L312.8,115.4 L313.2,114.4 L313.5,113.5 L313.9,112.7 L314.2,111.9 L314.6,111.1 L314.9,110.1 L315.1,109.8 L315.3,109.3 L315.6,109.1 L316.0,108.8 L316.3,108.4 L316.7,108.0 L317.0,107.5 L317.4,106.8 L317.7,106.3 L318.1,106.0 L318.4,105.8 L318.8,105.3 L319.1,104.8 L319.5,104.6 L319.7,104.6" stroke="#1464dc"/>
<path d="M68.3,42.8 L68.6,42.8 L69.0,42.8 L69.3,42.8 L69.7,42.8 L70.0,42.8 L70.4,42.8 L70.7,42.8 L71.1,42.8 L71.4,42.7 L71.8,42.7 L72.1,42.7 L72.5,42.7 L72.8,42.7 L73.2,42.7 L73.5,42.7 L73.9,42.7 L74.2,42.7 L74.6,42.7 L74.9,42.7 L75.3,42.7 L75.6,42.6 L76.0,42.6 L76.3,42.6 L76.7,42.6 L77.0,42.6 L77.4,42.6 L77.7,42.6 L78.1,42.6 L78.4,42.6 L78.8,42.5 L79.1,42.5 L79.5,42.5 L79.8,42.5 L80.2,42.5 L80.5,42.5 L80.9,42.5 L81.2,42.4 L81.6,42.4 L81.9,42.4 L82.3,42.4 L82.6,42.4 L83.0,42.4 L83.3,42.4 L83.7,42.4 L84.0,42.3 L84.4,42.3 L84.7,42.3 L85.0,42.3 L85.1,42.3 L85.4,42.3 L85.8,42.3 L86.1,42.3 L86.5,42.2 L86.8,42.2 L87.2,42.2 L87.5,42.2 L87.9,42.2 L88.2,42.2 L88.6,42.1 L88.9,42.1 L89.3,42.1 L89.6,42.1 L90.0,42.1 L90.3,42.1 L90.7,42.0 L91.0,42.0 L91.4,42.0 L91.7,42.0 L92.1,42.0 L92.4,41.9 L92.8,41.9 L93.1,41.9 L93.5,41.9 L93.8,41.8 L94.2,41.8 L94.5,41.8 L94.9,41.8 L95.2,41.7 L95.6,41.7 L95.9,41.7 L96.3,41.7 L96.6,41.6 L97.0,41.6 L97.3,41.6 L97.7,41.5 L98.0,41.5 L98.0,41.5 L98.4,41.5 L98.7,41.4 L99.1,41.4 L99.4,41.3 L99.8,41.3 L100.1,41.2 L100.5,41.1 L100.8,41.1 L101.2,41.0 L101.5,41.0 L101.9,40.9 L102.0,40.9 L102.2,40.9 L102.6,40.8 L102.9,40.8 L103.3,40.8 L103.6,40.7 L104.0,40.7 L104.3,40.6 L104.5,40.6 L104.7,40.6 L105.0,40.4 L105.4,40.3 L105.7,40.1 L106.0,40.0 L106.1,39.9 L106.4,39.7 L106.8,39.4 L107.1,39.0 L107.5,38.5 L107.5,38.5 L107.8,37.9 L108.2,37.0 L108.5,36.0 L108.5,35.8 L108.9,33.2 L109.1,32.5 L109.2,32.9 L109.6,35.3 L109.7,36.0 L109.9,37.8 L110.3,40.4 L110.4,41.0 L110.6,42.4 L111.0,44.3 L111.3,45.3 L111.4,45.3 L111.7,45.2 L112.0,44.8 L112.4,44.3 L112.7,43.7 L113.0,43.4 L113.1,43.3 L113.4,42.9 L113.8,42.4 L114.1,42.0 L114.5,41.6 L114.8,41.1 L115.2,40.7 L115.5,40.3 L115.9,39.8 L116.0,39.7 L116.2,39.4 L116.6,39.0 L116.9,38.6 L117.3,38.1 L117.6,37.7 L118.0,37.3 L118.3,36.9 L118.5,36.7 L118.7,36.4 L119.0,35.9 L119.4,35.4 L119.7,34.8 L120.1,34.5 L120.4,34.3 L120.5,34.3 L120.8,34.7 L121.1,36.0 L121.4,37.0 L121.5,37.4 L121.8,39.5 L122.2,41.5 L122.2,41.5 L122.5,43.1 L122.9,44.4 L123.1,44.6 L123.2,44.6 L123.6,44.4 L123.9,44.1 L124.3,43.8 L124.3,43.8 L124.6,43.5 L125.0,43.2 L125.3,43.1 L125.3,43.1 L125.7,43.4 L126.0,43.9 L126.4,44.5 L126.7,45.0 L126.8,45.0 L127.1,45.2 L127.4,45.5 L127.8,45.7 L128.1,45.9 L128.5,46.1 L128.8,46.2 L129.2,46.4 L129.3,46.4 L129.5,46.5 L129.9,46.6 L130.2,46.7 L130.6,46.8 L130.9,46.8 L131.3,46.9 L131.6,47.0 L132.0,47.1 L132.3,47.2 L132.7,47.2 L133.0,47.3 L133.4,47.3 L133.7,47.3 L134.1,47.4 L134.4,47.4 L134.8,47.4 L134.9,47.4 L135.1,47.4 L135.5,47.4 L135.8,47.4 L136.2,47.4 L136.5,47.4 L136.9,47.4 L137.2,47.4 L137.6,47.4 L137.9,47.4 L138.3,47.4 L138.6,47.3 L139.0,47.3 L139.3,47.3 L139.7,47.3 L140.0,47.3 L140.4,47.3 L140.7,47.3 L141.1,47.3 L141.4,47.3 L141.8,47.3 L142.0,47.3 L142.1,47.3 L142.5,47.3 L142.8,47.3 L143.2,47.3 L143.5,47.4 L143.9,47.4 L144.2,47.4 L144.6,47.5 L144.9,47.5 L145.3,47.6 L145.6,47.6 L146.0,47.7 L146.3,47.7 L146.7,47.8 L147.0,47.8 L147.4,47.9 L147.7,47.9 L148.1,48.0 L148.4,48.1 L148.8,48.1 L149.1,48.2 L149.5,48.2 L149.8,48.3 L150.0,48.3 L150.2,48.3 L150.5,48.4 L150.9,48.4 L151.2,48.5 L151.6,48.5 L151.9,48.6 L152.3,48.6 L152.6,48.7 L153.0,48.7 L153.3,48.8 L153.7,48.9 L154.0,48.9 L154.4,49.0 L154.7,49.0 L155.1,49.1 L155.4,49.1 L155.8,49.2 L156.1,49.2 L156.5,49.3 L156.8,49.4 L157.2,49.4 L157.5,49.5 L157.9,49.5 L158.2,49.6 L158.6,49.7 L158.9,49.7 L159.3,49.8 L159.6,49.9 L160.0,49.9 L160.3,50.0 L160.7,50.1 L161.0,50.2 L161.4,50.2 L161.7,50.3 L162.1,50.4 L162.4,50.5 L162.8,50.6 L163.1,50.6 L163.5,50.7 L163.8,50.8 L164.2,50.9 L164.5,51.0 L164.6,51.0 L164.9,51.1 L165.2,51.2 L165.6,51.3 L165.9,51.4 L166.3,51.6 L166.6,51.7 L167.0,51.8 L167.3,52.0 L167.7,52.1 L168.0,52.2 L168.2,52.3 L168.4,52.4 L168.7,52.5 L169.1,52.7 L169.4,52.8 L169.8,53.0 L170.1,53.1 L170.5,53.3 L170.8,53.4 L171.2,53.6 L171.5,53.7 L171.9,53.9 L172.2,54.0 L172.6,54.2 L172.9,54.4 L173.3,54.5 L173.6,54.7 L174.0,54.8 L174.3,55.0 L174.7,55.2 L175.0,55.3 L175.4,55.5 L175.7,55.7 L176.1,55.9 L176.4,56.0 L176.8,56.2 L177.1,56.4 L177.5,56.6 L177.8,56.7 L178.2,56.9 L178.5,57.1 L178.9,57.3 L179.2,57.4 L179.6,57.6 L179.9,57.8 L180.3,58.0 L180.6,58.2 L181.0,58.4 L181.3,58.5 L181.7,58.7 L182.0,58.9 L182.4,59.1 L182.7,59.3 L182.8,59.3 L183.1,59.5 L183.4,59.7 L183.8,59.9 L184.1,60.1 L184.5,60.3 L184.8,60.5 L185.2,60.7 L185.5,60.9 L185.9,61.1 L186.2,61.3 L186.5,61.4 L186.6,61.5 L186.9,61.6 L187.3,61.8 L187.6,62.0 L188.0,62.2 L188.3,62.4 L188.7,62.6 L189.0,62.8 L189.4,63.0 L189.7,63.2 L190.1,63.4 L190.4,63.6 L190.8,63.7 L191.1,63.9 L191.5,64.1 L191.8,64.3 L192.2,64.5 L192.5,64.7 L192.9,64.9 L193.2,65.1 L193.6,65.3 L193.9,65.5 L194.3,65.6 L194.6,65.8 L195.0,66.0 L195.3,66.2 L195.7,66.4 L196.0,66.6 L196.4,66.7 L196.7,66.9 L197.1,67.1 L197.4,67.3 L197.8,67.4 L198.1,67.6 L198.5,67.8 L198.8,68.0 L199.2,68.1 L199.5,68.3 L199.9,68.5 L200.2,68.6 L200.6,68.8 L200.9,68.9 L201.3,69.1 L201.6,69.3 L202.0,69.4 L202.3,69.6 L202.7,69.7 L203.0,69.9 L203.4,70.0 L203.7,70.1 L204.1,70.3 L204.4,70.4 L204.7,70.5 L204.8,70.5 L205.1,70.7 L205.5,70.8 L205.8,70.9 L206.2,71.0 L206.5,71.2 L206.9,71.3 L207.2,71.4 L207.6,71.5 L207.9,71.6 L208.3,71.8 L208.6,71.9 L209.0,72.0 L209.3,72.1 L209.7,72.2 L210.0,72.3 L210.4,72.4 L210.7,72.5 L211.1,72.6 L211.4,72.7 L211.8,72.8 L212.1,72.9 L212.5,73.0 L212.8,73.1 L213.2,73.2 L213.5,73.3 L213.9,73.4 L214.2,73.5 L214.6,73.6 L214.9,73.7 L215.3,73.8 L215.6,73.9 L216.0,74.0 L216.3,74.1 L216.7,74.2 L217.0,74.3 L217.4,74.4 L217.7,74.5 L218.1,74.6 L218.4,74.7 L218.8,74.8 L219.1,74.9 L219.5,75.0 L219.8,75.1 L220.2,75.2 L220.5,75.3 L220.9,75.4 L221.2,75.5 L221.6,75.6 L221.9,75.7 L222.3,75.8 L222.6,75.9 L223.0,76.0 L223.0,76.0 L223.3,76.1 L223.7,76.2 L224.0,76.3 L224.4,76.4 L224.7,76.5 L225.1,76.6 L225.4,76.7 L225.8,76.8 L226.1,76.9 L226.5,77.0 L226.8,77.1 L227.2,77.2 L227.5,77.3 L227.9,77.4 L228.2,77.5 L228.6,77.6 L228.9,77.7 L229.3,77.8 L229.6,77.9 L230.0,78.0 L230.3,78.1 L230.7,78.2 L231.0,78.3 L231.4,78.4 L231.7,78.5 L232.1,78.6 L232.4,78.7 L232.8,78.8 L233.1,79.0 L233.5,79.1 L233.8,79.2 L234.2,79.3 L234.5,79.4 L234.9,79.6 L235.2,79.7 L235.6,79.8 L235.9,79.9 L236.3,80.1 L236.6,80.2 L237.0,80.4 L237.3,80.5 L237.6,80.6 L237.7,80.6 L238.0,80.8 L238.4,80.9 L238.7,81.1 L239.1,81.3 L239.4,81.4 L239.8,81.6 L240.1,81.8 L240.5,82.0 L240.8,82.2 L241.2,82.3 L241.5,82.5 L241.9,82.7 L242.2,82.9 L242.6,83.2 L242.9,83.4 L243.3,83.6 L243.6,83.8 L244.0,84.0 L244.3,84.3 L244.7,84.5 L245.0,84.8 L245.4,85.0 L245.7,85.3 L246.1,85.5 L246.4,85.8 L246.7,86.0 L246.8,86.1 L247.1,86.4 L247.5,86.7 L247.8,87.0 L248.2,87.3 L248.5,87.6 L248.9,88.0 L249.2,88.3 L249.6,88.7 L249.9,89.1 L250.3,89.5 L250.6,89.9 L251.0,90.3 L251.3,90.7 L251.7,91.1 L252.0,91.6 L252.4,92.0 L252.7,92.5 L253.1,92.9 L253.4,93.4 L253.8,93.9 L254.0,94.2 L254.1,94.4 L254.5,94.9 L254.8,95.5 L255.2,96.0 L255.5,96.6 L255.9,97.2 L256.2,97.8 L256.6,98.4 L256.9,99.0 L257.3,99.7 L257.6,100.4 L258.0,101.1 L258.3,101.8 L258.7,102.5 L259.0,103.3 L259.4,104.1 L259.7,104.9 L260.1,105.7 L260.4,106.5 L260.8,107.4 L261.1,108.3 L261.3,108.7 L261.5,109.2 L261.8,110.2 L262.2,111.3 L262.5,112.4 L262.9,113.5 L263.2,114.8 L263.6,116.0 L263.9,117.4 L264.3,118.7 L264.6,120.1 L265.0,121.6 L265.3,123.0 L265.7,124.6 L265.8,125.0 L266.0,126.2 L266.4,128.1 L266.7,130.1 L267.1,132.1 L267.4,133.9 L267.7,135.0 L267.8,135.4 L268.1,136.6 L268.5,137.7 L268.8,138.6 L269.2,139.5 L269.5,140.5 L269.9,141.7 L270.2,143.0 L270.3,143.2 L270.6,144.7 L270.9,146.7 L271.3,149.1 L271.6,151.6 L272.0,154.3 L272.3,156.9 L272.7,159.5 L273.0,161.5 L273.0,161.8 L273.4,164.1 L273.7,166.5 L274.1,168.8 L274.4,171.0 L274.8,173.0 L275.1,174.8 L275.2,175.0 L275.5,176.2 L275.8,177.5 L276.2,178.6 L276.5,179.8 L276.6,180.0 L276.9,181.1 L277.2,182.5 L277.6,184.0 L277.9,185.5 L278.3,187.1 L278.6,188.6 L279.0,190.1 L279.3,191.5 L279.7,192.8 L280.0,194.0 L280.4,195.0 L280.7,195.9 L281.1,196.5 L281.1,196.5 L281.4,197.0 L281.8,197.5 L282.1,198.0 L282.5,198.4 L282.8,198.7 L283.2,199.0 L283.5,199.1 L283.9,199.2 L283.9,199.2 L284.2,199.2 L284.6,199.0 L284.9,198.8 L285.3,198.6 L285.6,198.2 L286.0,197.9 L286.3,197.4 L286.7,197.0 L287.0,196.5 L287.4,196.1 L287.7,195.6 L288.1,195.1 L288.4,194.7 L288.4,194.6 L288.8,194.2 L289.1,193.7 L289.5,193.2 L289.8,192.6 L290.2,192.0 L290.5,191.5 L290.9,190.8 L291.2,190.2 L291.6,189.5 L291.9,188.8 L292.3,188.1 L292.6,187.3 L293.0,186.6 L293.3,185.7 L293.7,184.9 L294.0,184.0 L294.4,183.1 L294.7,182.1 L294.8,182.0 L295.1,181.1 L295.4,179.9 L295.8,178.6 L296.1,177.2 L296.5,175.6 L296.8,174.0 L297.2,172.3 L297.5,170.7 L297.9,168.9 L298.2,167.2 L298.6,165.6 L298.9,163.9 L299.3,162.4 L299.5,161.5 L299.6,160.9 L300.0,159.4 L300.3,157.9 L300.7,156.4 L301.0,154.9 L301.4,153.5 L301.7,152.0 L302.1,150.5 L302.4,149.1 L302.8,147.6 L303.1,146.2 L303.5,144.8 L303.8,143.5 L304.2,142.2 L304.5,140.9 L304.9,139.6 L304.9,139.6 L305.2,138.4 L305.6,137.1 L305.9,135.9 L306.3,134.7 L306.6,133.6 L307.0,132.4 L307.3,131.3 L307.7,130.2 L308.0,129.1 L308.4,128.1 L308.7,127.0 L309.1,126.1 L309.4,125.1 L309.5,125.0 L309.8,124.2 L310.1,123.3 L310.5,122.3 L310.8,121.4 L311.2,120.4 L311.5,119.5 L311.9,118.6 L312.2,117.7 L312.6,116.9 L312.9,116.2 L313.3,115.5 L313.6,115.0 L314.0,114.5 L314.3,114.1 L314.5,114.0 L314.7,113.9 L315.0,113.6 L315.4,113.4 L315.7,113.1 L316.1,112.9 L316.4,112.7 L316.8,112.5 L317.1,112.4 L317.5,112.2 L317.8,112.1 L318.2,112.0 L318.5,111.9 L318.9,111.9 L319.1,111.9" stroke="#23a455"/>
<path d="M61.9,57.7 L62.2,57.8 L62.6,57.9 L63.0,58.5 L63.3,59.3 L63.7,59.4 L64.0,58.6 L64.4,58.1 L64.7,58.5 L65.1,59.0 L65.4,58.2 L65.8,57.3 L66.1,57.1 L66.5,57.4 L66.8,57.5 L67.2,57.1 L67.5,56.6 L67.9,57.3 L68.2,58.0 L68.6,58.7 L68.9,59.5 L69.3,59.7 L69.6,59.3 L70.0,58.9 L70.3,59.3 L70.7,59.8 L71.0,58.9 L71.4,57.8 L71.7,57.4 L72.1,57.5 L72.4,57.7 L72.8,58.0 L73.1,58.2 L73.5,58.8 L73.8,59.5 L74.2,59.6 L74.5,59.5 L74.9,59.3 L75.2,59.1 L75.6,59.0 L75.9,59.4 L76.3,59.8 L76.6,59.5 L77.0,59.1 L77.3,59.0 L77.7,59.1 L78.0,59.4 L78.4,60.1 L78.7,60.9 L79.1,59.9 L79.4,58.8 L79.8,58.8 L80.0,59.2 L80.1,59.3 L80.5,59.9 L80.8,60.8 L81.2,61.4 L81.5,60.5 L81.9,59.7 L82.2,59.9 L82.6,60.3 L82.9,60.0 L83.3,59.3 L83.6,59.2 L84.0,60.7 L84.3,62.2 L84.7,59.8 L85.0,57.4 L85.4,57.2 L85.7,57.9 L86.1,58.3 L86.4,58.4 L86.8,58.7 L87.1,60.2 L87.5,61.8 L87.8,61.4 L88.2,60.7 L88.5,60.2 L88.9,59.9 L89.2,59.5 L89.6,58.9 L89.9,58.4 L90.3,59.3 L90.6,60.3 L91.0,60.5 L91.3,60.3 L91.7,60.1 L92.0,59.6 L92.4,59.2 L92.7,58.8 L93.1,58.3 L93.4,58.4 L93.8,58.7 L94.1,59.2 L94.5,59.9 L94.7,60.5 L94.8,60.5 L95.2,60.5 L95.5,60.6 L95.9,60.5 L96.2,60.3 L96.6,60.2 L96.9,60.0 L97.3,59.5 L97.6,58.6 L98.0,57.9 L98.3,58.9 L98.7,59.9 L99.0,59.5 L99.4,58.8 L99.7,58.9 L100.1,59.4 L100.4,59.9 L100.8,60.0 L101.1,60.2 L101.5,59.5 L101.8,58.8 L102.0,58.5 L102.2,58.3 L102.5,57.6 L102.9,57.2 L103.2,57.7 L103.3,57.9 L103.6,58.2 L103.9,57.5 L104.3,58.1 L104.3,58.1 L104.6,58.7 L105.0,60.6 L105.2,61.3 L105.3,61.0 L105.7,59.3 L106.0,57.9 L106.0,57.9 L106.4,58.0 L106.7,58.0 L107.0,57.2 L107.1,57.0 L107.4,55.7 L107.8,54.1 L108.1,52.5 L108.5,50.8 L108.5,50.5 L108.8,48.8 L109.2,47.0 L109.5,46.5 L109.5,46.5 L109.9,47.4 L110.2,49.5 L110.5,51.6 L110.6,52.0 L110.9,55.5 L111.3,59.8 L111.4,61.5 L111.6,61.8 L112.0,64.5 L112.3,66.9 L112.5,68.7 L112.7,70.0 L113.0,73.1 L113.4,74.6 L113.4,74.6 L113.7,73.5 L114.1,71.2 L114.4,69.3 L114.4,69.3 L114.8,67.7 L115.1,65.2 L115.5,62.7 L115.8,61.6 L116.0,61.1 L116.2,60.8 L116.5,59.6 L116.9,57.9 L117.2,56.5 L117.6,55.5 L117.9,54.5 L118.3,53.9 L118.4,53.7 L118.6,53.5 L119.0,53.1 L119.3,54.4 L119.7,53.6 L120.0,52.0 L120.0,52.0 L120.4,50.2 L120.7,50.0 L120.9,50.3 L121.1,50.8 L121.4,51.8 L121.8,53.3 L121.8,53.5 L122.1,55.7 L122.5,59.0 L122.6,59.8 L122.8,60.7 L123.2,64.2 L123.5,65.7 L123.9,66.1 L124.0,66.3 L124.2,66.6 L124.6,67.7 L124.9,69.0 L125.3,70.0 L125.6,70.4 L125.6,70.4 L126.0,71.2 L126.3,72.8 L126.7,74.3 L127.0,76.0 L127.1,76.3 L127.4,77.1 L127.7,78.0 L128.1,78.6 L128.4,79.0 L128.8,78.7 L129.1,78.3 L129.5,78.5 L129.8,78.7 L130.0,78.6 L130.2,78.4 L130.5,77.9 L130.9,77.4 L131.2,77.1 L131.6,76.9 L131.9,77.2 L132.3,77.5 L132.6,78.0 L133.0,78.6 L133.0,78.6 L133.3,78.1 L133.7,76.8 L134.0,76.0 L134.4,76.4 L134.7,76.8 L135.1,76.2 L135.4,75.6 L135.8,75.8 L136.1,76.4 L136.5,76.8 L136.8,77.0 L137.2,75.2 L137.5,74.3 L137.9,73.5 L138.0,73.4 L138.2,73.5 L138.6,73.7 L138.9,74.1 L139.3,74.6 L139.6,74.8 L140.0,74.2 L140.3,73.6 L140.7,73.1 L141.0,72.6 L141.4,72.3 L141.7,72.2 L142.1,71.0 L142.4,70.6 L142.8,70.5 L143.1,71.3 L143.5,72.2 L143.8,71.8 L144.2,71.1 L144.5,71.1 L144.9,71.6 L145.0,71.9 L145.2,71.9 L145.6,71.7 L145.9,71.5 L146.3,70.9 L146.6,70.2 L147.0,69.9 L147.3,69.8 L147.7,69.9 L148.0,70.2 L148.0,70.2 L148.4,70.5 L148.7,70.1 L149.1,69.8 L149.4,69.7 L149.8,69.6 L150.1,69.1 L150.5,68.3 L150.8,68.0 L151.2,68.8 L151.5,69.6 L151.9,68.9 L152.2,68.2 L152.6,67.7 L152.9,67.2 L153.1,66.9 L153.3,67.1 L153.6,67.7 L154.0,68.3 L154.3,68.7 L154.7,69.1 L155.0,69.7 L155.4,70.4 L155.7,70.2 L156.1,69.4 L156.4,68.7 L156.8,68.5 L157.1,68.2 L157.3,68.9 L157.5,69.5 L157.8,70.8 L158.2,70.7 L158.5,70.1 L158.9,69.7 L159.2,69.6 L159.6,69.5 L159.9,69.3 L160.3,69.1 L160.6,69.2 L161.0,69.4 L161.3,70.0 L161.7,70.9 L162.0,71.5 L162.4,71.0 L162.7,70.5 L163.1,70.6 L163.4,70.6 L163.8,70.8 L164.1,70.9 L164.5,71.4 L164.8,72.3 L165.0,72.8 L165.2,73.0 L165.5,72.5 L165.9,72.1 L166.2,72.7 L166.6,73.5 L166.9,74.0 L167.3,74.3 L167.6,74.6 L168.0,75.0 L168.2,75.2 L168.3,75.3 L168.7,75.2 L169.0,75.1 L169.4,75.7 L169.7,76.6 L170.1,77.3 L170.4,78.0 L170.8,78.5 L171.1,78.2 L171.5,77.9 L171.8,77.8 L172.2,77.8 L172.5,77.9 L172.9,78.1 L173.2,78.4 L173.6,79.2 L173.9,80.0 L174.3,80.1 L174.6,80.3 L175.0,80.5 L175.3,81.9 L175.7,82.2 L176.0,82.5 L176.4,82.8 L176.7,82.8 L177.1,82.9 L177.4,83.4 L177.8,84.0 L178.1,84.4 L178.5,84.6 L178.8,84.8 L179.2,85.0 L179.2,85.0 L179.5,85.2 L179.9,85.5 L180.2,85.8 L180.6,86.2 L180.9,86.6 L181.3,86.8 L181.6,87.0 L182.0,87.1 L182.3,87.2 L182.7,87.3 L183.0,87.9 L183.4,88.4 L183.7,88.7 L184.1,88.7 L184.4,88.8 L184.8,89.0 L185.1,89.2 L185.5,89.3 L185.8,89.4 L186.2,89.8 L186.5,90.3 L186.9,90.6 L187.2,90.7 L187.6,90.9 L187.9,91.2 L188.3,91.5 L188.6,91.9 L189.0,92.3 L189.3,92.5 L189.7,92.7 L190.0,93.0 L190.4,93.3 L190.7,93.7 L191.1,93.8 L191.4,94.0 L191.8,94.1 L192.0,94.2 L192.1,94.2 L192.5,94.4 L192.8,94.6 L193.2,94.8 L193.5,95.0 L193.9,95.2 L194.2,95.6 L194.6,96.0 L194.9,96.3 L195.3,96.4 L195.6,96.5 L196.0,96.7 L196.3,96.9 L196.7,97.3 L197.0,97.7 L197.4,97.9 L197.7,98.0 L198.1,98.1 L198.4,98.2 L198.8,98.4 L199.1,98.4 L199.5,98.5 L199.8,98.9 L200.2,99.4 L200.5,99.7 L200.9,99.8 L201.2,100.0 L201.6,100.1 L201.9,100.3 L202.3,100.4 L202.6,100.5 L203.0,100.6 L203.3,100.6 L203.7,100.8 L204.0,101.0 L204.4,101.2 L204.7,101.4 L204.7,101.4 L205.1,101.6 L205.4,101.6 L205.8,101.7 L206.1,101.8 L206.5,101.9 L206.8,101.9 L207.2,102.0 L207.5,102.0 L207.9,102.2 L208.2,102.4 L208.6,102.6 L208.9,102.6 L209.3,102.6 L209.6,102.5 L210.0,102.5 L210.3,102.8 L210.7,103.1 L211.0,103.2 L211.4,103.3 L211.7,103.4 L212.1,103.4 L212.4,103.4 L212.8,103.4 L213.0,103.3 L213.1,103.3 L213.5,103.3 L213.8,103.4 L214.2,103.3 L214.5,103.2 L214.9,103.3 L215.2,103.6 L215.6,103.8 L215.9,103.4 L216.3,103.0 L216.6,103.2 L217.0,103.5 L217.3,103.7 L217.7,103.7 L218.0,103.8 L218.4,104.0 L218.7,104.3 L219.1,104.2 L219.4,104.1 L219.8,104.0 L220.1,103.8 L220.5,103.8 L220.8,103.7 L221.2,103.7 L221.5,103.9 L221.9,104.0 L222.2,104.2 L222.6,104.4 L222.9,104.5 L223.0,104.5 L223.3,104.6 L223.6,104.6 L224.0,104.7 L224.3,104.7 L224.7,104.7 L225.0,104.7 L225.4,104.8 L225.7,105.0 L226.1,105.2 L226.4,105.5 L226.8,105.7 L227.1,105.5 L227.5,105.3 L227.8,105.5 L228.2,105.8 L228.5,106.1 L228.9,106.5 L229.2,106.8 L229.6,106.7 L229.9,106.7 L230.0,106.6 L230.3,106.6 L230.6,106.6 L231.0,106.8 L231.3,107.1 L231.7,107.2 L232.0,107.1 L232.4,107.1 L232.7,107.3 L233.1,107.6 L233.4,107.9 L233.8,108.3 L234.1,108.5 L234.5,108.7 L234.8,108.8 L235.2,108.4 L235.5,108.0 L235.9,108.5 L236.2,109.0 L236.6,109.4 L236.9,109.8 L237.3,109.9 L237.6,109.7 L237.6,109.7 L238.0,109.6 L238.3,109.9 L238.7,110.3 L239.0,110.7 L239.4,111.1 L239.7,111.3 L240.1,111.2 L240.4,111.3 L240.8,111.7 L241.1,112.1 L241.5,112.3 L241.8,112.5 L242.2,112.6 L242.5,112.6 L242.9,112.9 L243.2,113.5 L243.6,114.1 L243.9,114.4 L244.3,114.6 L244.6,115.1 L245.0,115.6 L245.3,116.1 L245.7,116.6 L246.0,117.0 L246.4,117.1 L246.7,117.2 L247.1,117.4 L247.4,117.6 L247.8,118.0 L248.1,118.5 L248.5,118.9 L248.5,118.9 L248.8,119.2 L249.2,119.5 L249.5,120.0 L249.9,120.5 L250.2,120.6 L250.6,120.6 L250.9,120.8 L251.3,121.2 L251.6,121.6 L252.0,121.9 L252.3,122.2 L252.7,123.1 L253.0,124.0 L253.4,124.5 L253.7,124.9 L253.8,125.0 L254.1,125.4 L254.4,125.9 L254.8,126.5 L255.1,127.2 L255.5,127.9 L255.8,128.6 L255.8,128.6 L256.2,129.2 L256.5,129.7 L256.9,130.2 L257.2,130.7 L257.6,131.3 L257.9,131.9 L258.3,132.5 L258.6,133.0 L259.0,133.9 L259.3,134.9 L259.5,135.5 L259.7,135.8 L260.0,136.6 L260.4,137.5 L260.7,138.5 L261.1,139.6 L261.4,140.9 L261.8,142.1 L262.0,143.1 L262.1,143.5 L262.5,144.9 L262.8,146.2 L263.2,147.2 L263.5,148.3 L263.9,149.4 L264.2,150.5 L264.6,151.7 L264.9,152.9 L265.3,154.2 L265.6,155.5 L266.0,156.7 L266.3,157.4 L266.7,158.2 L267.0,159.4 L267.4,160.7 L267.5,161.2 L267.7,161.8 L268.1,162.9 L268.4,164.1 L268.8,165.6 L269.1,167.2 L269.5,168.2 L269.8,169.4 L270.2,170.6 L270.5,171.9 L270.9,173.3 L271.2,174.7 L271.2,174.7 L271.6,176.5 L271.9,178.6 L272.3,180.8 L272.6,182.5 L272.9,183.7 L273.0,183.9 L273.3,185.2 L273.7,186.5 L274.0,188.9 L274.4,190.4 L274.7,191.9 L275.1,192.8 L275.4,193.6 L275.8,194.5 L276.1,195.5 L276.5,196.7 L276.8,198.3 L277.2,199.5 L277.5,199.9 L277.9,200.1 L278.2,200.6 L278.4,200.9 L278.6,201.1 L278.9,201.7 L279.3,202.1 L279.6,202.7 L280.0,203.2 L280.3,203.7 L280.7,204.3 L281.0,204.7 L281.4,205.0 L281.7,205.1 L282.0,205.2 L282.1,205.1 L282.4,205.1 L282.8,205.0 L283.1,204.8 L283.5,204.6 L283.8,204.3 L284.2,204.0 L284.5,203.9 L284.9,204.0 L285.2,204.1 L285.6,204.1 L285.9,204.1 L286.3,203.8 L286.6,203.5 L286.6,203.5 L287.0,203.1 L287.3,202.5 L287.7,201.9 L288.0,201.5 L288.4,200.9 L288.7,200.0 L289.1,199.0 L289.4,198.1 L289.8,197.3 L290.1,196.3 L290.5,195.1 L290.8,194.0 L291.2,193.2 L291.5,192.4 L291.9,191.4 L292.2,189.5 L292.6,188.5 L292.9,187.6 L293.0,187.4 L293.3,186.8 L293.6,186.1 L294.0,185.4 L294.3,184.7 L294.7,184.0 L295.0,183.0 L295.4,182.1 L295.7,181.0 L296.1,179.8 L296.4,178.8 L296.8,177.8 L297.1,176.8 L297.5,175.9 L297.8,175.0 L298.2,174.1 L298.5,173.2 L298.9,172.3 L299.2,171.6 L299.6,170.9 L299.9,170.1 L300.3,169.3 L300.3,169.1 L300.6,168.4 L301.0,167.6 L301.3,166.8 L301.7,166.0 L302.0,165.1 L302.2,164.6 L302.4,164.1 L302.7,163.0 L303.1,161.8 L303.4,160.5 L303.8,159.0 L304.1,157.5 L304.5,156.2 L304.8,155.0 L305.2,153.8 L305.5,152.2 L305.9,150.6 L306.2,148.9 L306.6,147.2 L306.9,145.7 L307.3,144.4 L307.6,143.2 L307.7,142.9 L308.0,142.1 L308.3,141.1 L308.7,140.0 L309.0,139.0 L309.4,138.0 L309.7,137.1 L310.1,136.1 L310.4,135.0 L310.8,133.9 L311.1,132.9 L311.5,131.8 L311.8,130.7 L312.2,129.6 L312.5,128.6 L312.9,127.7 L313.2,126.8 L313.6,125.9 L313.9,125.1 L314.0,124.9 L314.3,124.4 L314.6,123.7 L315.0,123.0 L315.3,122.4 L315.7,121.7 L316.0,120.9 L316.4,120.3 L316.4,120.2 L316.7,120.0 L317.1,119.8 L317.4,119.7 L317.8,119.6 L318.1,119.1 L318.5,118.3 L318.8,117.7 L319.2,117.3 L319.5,117.0 L319.6,117.0" stroke="#b684e2"/>
<path d="M61.9,59.2 L62.2,59.2 L62.6,59.3 L63.0,59.3 L63.3,59.3 L63.7,59.3 L64.0,59.4 L64.4,59.4 L64.7,59.4 L65.1,59.4 L65.4,59.5 L65.8,59.5 L66.1,59.5 L66.5,59.5 L66.8,59.6 L67.2,59.6 L67.5,59.6 L67.9,59.7 L68.2,59.7 L68.6,59.7 L68.9,59.7 L69.3,59.8 L69.6,59.8 L70.0,59.8 L70.3,59.8 L70.7,59.9 L71.0,59.9 L71.4,59.9 L71.7,59.9 L72.1,60.0 L72.4,60.0 L72.8,60.0 L73.1,60.0 L73.5,60.1 L73.8,60.1 L74.2,60.1 L74.5,60.1 L74.9,60.2 L75.2,60.2 L75.6,60.2 L75.9,60.2 L76.3,60.2 L76.6,60.3 L77.0,60.3 L77.3,60.3 L77.7,60.3 L78.0,60.4 L78.4,60.4 L78.7,60.4 L79.1,60.4 L79.4,60.5 L79.8,60.5 L80.0,60.5 L80.1,60.5 L80.5,60.5 L80.8,60.6 L81.2,60.6 L81.5,60.6 L81.9,60.6 L82.2,60.7 L82.6,60.7 L82.9,60.7 L83.3,60.7 L83.6,60.8 L84.0,60.8 L84.3,60.8 L84.7,60.9 L85.0,60.9 L85.4,60.9 L85.7,60.9 L86.1,61.0 L86.4,61.0 L86.8,61.0 L87.1,61.1 L87.5,61.1 L87.8,61.1 L88.2,61.1 L88.5,61.2 L88.9,61.2 L89.2,61.2 L89.6,61.2 L89.9,61.2 L90.3,61.3 L90.6,61.3 L91.0,61.3 L91.3,61.3 L91.7,61.3 L92.0,61.3 L92.4,61.4 L92.7,61.4 L93.1,61.4 L93.4,61.4 L93.8,61.4 L94.1,61.4 L94.5,61.4 L94.7,61.4 L94.8,61.4 L95.2,61.4 L95.5,61.4 L95.9,61.4 L96.2,61.4 L96.6,61.4 L96.9,61.3 L97.3,61.3 L97.6,61.3 L98.0,61.3 L98.3,61.2 L98.7,61.2 L99.0,61.2 L99.4,61.1 L99.7,61.1 L100.1,61.0 L100.4,60.9 L100.8,60.9 L101.1,60.8 L101.5,60.7 L101.8,60.7 L102.0,60.6 L102.2,60.5 L102.5,60.0 L102.9,59.3 L103.2,58.6 L103.3,58.5 L103.6,58.2 L103.9,57.8 L104.3,57.6 L104.3,57.6 L104.6,58.7 L105.0,61.2 L105.2,62.0 L105.3,61.9 L105.7,61.1 L106.0,60.0 L106.0,60.0 L106.4,59.0 L106.7,58.0 L107.0,57.0 L107.1,56.8 L107.4,55.3 L107.8,53.5 L108.1,51.7 L108.5,50.2 L108.5,50.0 L108.8,48.8 L109.2,47.6 L109.5,47.0 L109.5,47.0 L109.9,47.9 L110.2,49.9 L110.5,52.0 L110.6,52.4 L110.9,55.6 L111.3,59.5 L111.4,61.0 L111.6,62.9 L112.0,66.3 L112.3,69.4 L112.5,71.0 L112.7,72.2 L113.0,74.9 L113.4,76.5 L113.4,76.5 L113.7,75.6 L114.1,73.3 L114.4,71.0 L114.4,71.0 L114.8,69.1 L115.1,67.3 L115.5,65.5 L115.8,63.8 L116.0,63.0 L116.2,62.4 L116.5,61.0 L116.9,59.7 L117.2,58.5 L117.6,57.3 L117.9,56.3 L118.3,55.4 L118.4,55.1 L118.6,54.7 L119.0,54.1 L119.3,53.7 L119.7,53.1 L120.0,52.5 L120.0,52.5 L120.4,51.4 L120.7,50.2 L120.9,50.0 L121.1,50.1 L121.4,51.1 L121.8,52.8 L121.8,53.0 L122.1,55.5 L122.5,59.0 L122.6,60.0 L122.8,60.8 L123.2,61.9 L123.5,62.8 L123.9,63.6 L124.0,64.0 L124.2,64.6 L124.6,65.5 L124.9,66.4 L125.3,67.4 L125.6,68.5 L125.6,68.5 L126.0,69.9 L126.3,71.6 L126.7,73.2 L127.0,74.2 L127.1,74.4 L127.4,74.7 L127.7,75.0 L128.1,75.4 L128.4,75.6 L128.8,75.8 L129.1,76.0 L129.5,76.1 L129.8,76.2 L130.0,76.2 L130.2,76.2 L130.5,76.2 L130.9,76.2 L131.2,76.1 L131.6,76.1 L131.9,76.0 L132.3,75.9 L132.6,75.9 L133.0,75.8 L133.0,75.8 L133.3,75.7 L133.7,75.7 L134.0,75.6 L134.4,75.5 L134.7,75.4 L135.1,75.3 L135.4,75.2 L135.8,75.0 L136.1,74.9 L136.5,74.8 L136.8,74.7 L137.2,74.6 L137.5,74.5 L137.9,74.3 L138.0,74.3 L138.2,74.2 L138.6,74.1 L138.9,74.0 L139.3,73.9 L139.6,73.8 L140.0,73.7 L140.3,73.6 L140.7,73.5 L141.0,73.4 L141.4,73.3 L141.7,73.2 L142.1,73.1 L142.4,73.0 L142.8,72.9 L143.1,72.8 L143.5,72.7 L143.8,72.6 L144.2,72.5 L144.5,72.4 L144.9,72.3 L145.0,72.2 L145.2,72.1 L145.6,72.0 L145.9,71.8 L146.3,71.7 L146.6,71.5 L147.0,71.4 L147.3,71.3 L147.7,71.1 L148.0,71.0 L148.0,71.0 L148.4,70.9 L148.7,70.8 L149.1,70.6 L149.4,70.5 L149.8,70.4 L150.1,70.3 L150.5,70.2 L150.8,70.1 L151.2,70.0 L151.5,69.9 L151.9,69.8 L152.2,69.8 L152.6,69.7 L152.9,69.7 L153.1,69.7 L153.3,69.7 L153.6,69.7 L154.0,69.7 L154.3,69.8 L154.7,69.8 L155.0,69.9 L155.4,69.9 L155.7,70.0 L156.1,70.1 L156.4,70.1 L156.8,70.2 L157.1,70.3 L157.3,70.3 L157.5,70.3 L157.8,70.4 L158.2,70.5 L158.5,70.5 L158.9,70.6 L159.2,70.7 L159.6,70.8 L159.9,70.9 L160.3,71.0 L160.6,71.1 L161.0,71.2 L161.3,71.3 L161.7,71.4 L162.0,71.5 L162.4,71.6 L162.7,71.8 L163.1,71.9 L163.4,72.0 L163.8,72.2 L164.1,72.4 L164.5,72.5 L164.8,72.7 L165.0,72.8 L165.2,72.9 L165.5,73.1 L165.9,73.4 L166.2,73.8 L166.6,74.2 L166.9,74.6 L167.3,75.0 L167.6,75.4 L168.0,75.8 L168.2,76.0 L168.3,76.1 L168.7,76.4 L169.0,76.7 L169.4,77.0 L169.7,77.3 L170.1,77.7 L170.4,78.0 L170.8,78.3 L171.1,78.6 L171.5,78.9 L171.8,79.1 L172.2,79.4 L172.5,79.7 L172.9,80.0 L173.2,80.3 L173.6,80.6 L173.9,80.9 L174.3,81.1 L174.6,81.4 L175.0,81.7 L175.3,82.0 L175.7,82.3 L176.0,82.5 L176.4,82.8 L176.7,83.1 L177.1,83.3 L177.4,83.6 L177.8,83.9 L178.1,84.2 L178.5,84.4 L178.8,84.7 L179.2,85.0 L179.2,85.0 L179.5,85.2 L179.9,85.5 L180.2,85.8 L180.6,86.0 L180.9,86.3 L181.3,86.6 L181.6,86.8 L182.0,87.1 L182.3,87.4 L182.7,87.6 L183.0,87.9 L183.4,88.2 L183.7,88.4 L184.1,88.7 L184.4,88.9 L184.8,89.2 L185.1,89.4 L185.5,89.7 L185.8,90.0 L186.2,90.2 L186.5,90.5 L186.9,90.7 L187.2,91.0 L187.6,91.2 L187.9,91.5 L188.3,91.7 L188.6,91.9 L189.0,92.2 L189.3,92.4 L189.7,92.7 L190.0,92.9 L190.4,93.1 L190.7,93.4 L191.1,93.6 L191.4,93.8 L191.8,94.0 L192.0,94.2 L192.1,94.3 L192.5,94.5 L192.8,94.7 L193.2,94.9 L193.5,95.2 L193.9,95.4 L194.2,95.6 L194.6,95.9 L194.9,96.1 L195.3,96.3 L195.6,96.5 L196.0,96.8 L196.3,97.0 L196.7,97.2 L197.0,97.5 L197.4,97.7 L197.7,97.9 L198.1,98.1 L198.4,98.3 L198.8,98.5 L199.1,98.8 L199.5,99.0 L199.8,99.2 L200.2,99.4 L200.5,99.6 L200.9,99.7 L201.2,99.9 L201.6,100.1 L201.9,100.3 L202.3,100.4 L202.6,100.6 L203.0,100.7 L203.3,100.9 L203.7,101.0 L204.0,101.2 L204.4,101.3 L204.7,101.4 L204.7,101.4 L205.1,101.5 L205.4,101.6 L205.8,101.7 L206.1,101.8 L206.5,101.9 L206.8,102.0 L207.2,102.1 L207.5,102.2 L207.9,102.3 L208.2,102.4 L208.6,102.4 L208.9,102.5 L209.3,102.6 L209.6,102.7 L210.0,102.7 L210.3,102.8 L210.7,102.9 L211.0,103.0 L211.4,103.0 L211.7,103.1 L212.1,103.1 L212.4,103.2 L212.8,103.3 L213.0,103.3 L213.1,103.3 L213.5,103.4 L213.8,103.4 L214.2,103.5 L214.5,103.5 L214.9,103.6 L215.2,103.6 L215.6,103.6 L215.9,103.7 L216.3,103.7 L216.6,103.7 L217.0,103.8 L217.3,103.8 L217.7,103.8 L218.0,103.9 L218.4,103.9 L218.7,104.0 L219.1,104.0 L219.4,104.0 L219.8,104.1 L220.1,104.1 L220.5,104.1 L220.8,104.2 L221.2,104.2 L221.5,104.3 L221.9,104.3 L222.2,104.4 L222.6,104.4 L222.9,104.5 L223.0,104.5 L223.3,104.5 L223.6,104.6 L224.0,104.7 L224.3,104.8 L224.7,104.8 L225.0,104.9 L225.4,105.0 L225.7,105.1 L226.1,105.2 L226.4,105.3 L226.8,105.4 L227.1,105.5 L227.5,105.7 L227.8,105.8 L228.2,105.9 L228.5,106.0 L228.9,106.1 L229.2,106.2 L229.6,106.3 L229.9,106.5 L230.0,106.5 L230.3,106.6 L230.6,106.7 L231.0,106.8 L231.3,106.9 L231.7,107.1 L232.0,107.2 L232.4,107.3 L232.7,107.4 L233.1,107.6 L233.4,107.7 L233.8,107.8 L234.1,108.0 L234.5,108.1 L234.8,108.3 L235.2,108.4 L235.5,108.6 L235.9,108.7 L236.2,108.9 L236.6,109.1 L236.9,109.2 L237.3,109.4 L237.6,109.6 L237.6,109.6 L238.0,109.8 L238.3,110.0 L238.7,110.2 L239.0,110.4 L239.4,110.7 L239.7,110.9 L240.1,111.2 L240.4,111.4 L240.8,111.7 L241.1,111.9 L241.5,112.2 L241.8,112.5 L242.2,112.8 L242.5,113.1 L242.9,113.4 L243.2,113.7 L243.6,114.0 L243.9,114.3 L244.3,114.7 L244.6,115.0 L245.0,115.3 L245.3,115.6 L245.7,116.0 L246.0,116.3 L246.4,116.7 L246.7,117.0 L247.1,117.4 L247.4,117.7 L247.8,118.1 L248.1,118.4 L248.5,118.8 L248.5,118.8 L248.8,119.1 L249.2,119.5 L249.5,119.8 L249.9,120.2 L250.2,120.5 L250.6,120.9 L250.9,121.3 L251.3,121.7 L251.6,122.1 L252.0,122.5 L252.3,122.9 L252.7,123.4 L253.0,123.9 L253.4,124.3 L253.7,124.9 L253.8,125.0 L254.1,125.4 L254.4,126.0 L254.8,126.7 L255.1,127.4 L255.5,128.1 L255.8,128.8 L255.8,128.8 L256.2,129.4 L256.5,130.0 L256.9,130.5 L257.2,131.0 L257.6,131.5 L257.9,132.1 L258.3,132.6 L258.6,133.2 L259.0,133.9 L259.3,134.6 L259.5,135.0 L259.7,135.4 L260.0,136.3 L260.4,137.4 L260.7,138.6 L261.1,139.8 L261.4,141.1 L261.8,142.4 L262.0,143.2 L262.1,143.5 L262.5,144.7 L262.8,145.8 L263.2,147.0 L263.5,148.1 L263.9,149.3 L264.2,150.4 L264.6,151.6 L264.9,152.7 L265.3,153.9 L265.6,155.0 L266.0,156.2 L266.3,157.4 L266.7,158.6 L267.0,159.8 L267.4,161.0 L267.5,161.5 L267.7,162.2 L268.1,163.4 L268.4,164.6 L268.8,165.8 L269.1,167.0 L269.5,168.2 L269.8,169.5 L270.2,170.8 L270.5,172.1 L270.9,173.5 L271.2,175.0 L271.2,175.0 L271.6,176.7 L271.9,178.6 L272.3,180.5 L272.6,182.4 L272.9,183.7 L273.0,183.9 L273.3,185.3 L273.7,186.6 L274.0,187.9 L274.4,189.2 L274.7,190.4 L275.1,191.6 L275.4,192.7 L275.8,193.8 L276.1,194.9 L276.5,195.8 L276.8,196.8 L277.2,197.6 L277.5,198.4 L277.9,199.1 L278.2,199.7 L278.4,200.0 L278.6,200.2 L278.9,200.8 L279.3,201.3 L279.6,201.8 L280.0,202.3 L280.3,202.7 L280.7,203.1 L281.0,203.4 L281.4,203.6 L281.7,203.8 L282.0,203.8 L282.1,203.8 L282.4,203.8 L282.8,203.7 L283.1,203.7 L283.5,203.6 L283.8,203.5 L284.2,203.3 L284.5,203.2 L284.9,203.0 L285.2,202.8 L285.6,202.6 L285.9,202.4 L286.3,202.2 L286.6,202.0 L286.6,202.0 L287.0,201.7 L287.3,201.3 L287.7,200.8 L288.0,200.2 L288.4,199.6 L288.7,198.8 L289.1,198.0 L289.4,197.1 L289.8,196.2 L290.1,195.3 L290.5,194.3 L290.8,193.3 L291.2,192.3 L291.5,191.4 L291.9,190.4 L292.2,189.4 L292.6,188.5 L292.9,187.6 L293.0,187.4 L293.3,186.8 L293.6,185.9 L294.0,185.1 L294.3,184.2 L294.7,183.3 L295.0,182.5 L295.4,181.6 L295.7,180.7 L296.1,179.8 L296.4,178.9 L296.8,178.0 L297.1,177.1 L297.5,176.2 L297.8,175.3 L298.2,174.4 L298.5,173.5 L298.9,172.6 L299.2,171.7 L299.6,170.8 L299.9,170.0 L300.3,169.1 L300.3,169.0 L300.6,168.3 L301.0,167.5 L301.3,166.7 L301.7,165.9 L302.0,165.0 L302.2,164.5 L302.4,164.1 L302.7,163.0 L303.1,161.8 L303.4,160.5 L303.8,159.1 L304.1,157.7 L304.5,156.2 L304.8,154.8 L305.2,153.3 L305.5,151.8 L305.9,150.3 L306.2,148.8 L306.6,147.4 L306.9,146.0 L307.3,144.7 L307.6,143.5 L307.7,143.2 L308.0,142.4 L308.3,141.3 L308.7,140.1 L309.0,139.0 L309.4,137.9 L309.7,136.8 L310.1,135.7 L310.4,134.6 L310.8,133.6 L311.1,132.6 L311.5,131.6 L311.8,130.7 L312.2,129.8 L312.5,128.9 L312.9,128.1 L313.2,127.4 L313.6,126.8 L313.9,126.2 L314.0,126.0 L314.3,125.6 L314.6,125.1 L315.0,124.7 L315.3,124.3 L315.7,123.9 L316.0,123.6 L316.4,123.2 L316.4,123.2 L316.7,122.9 L317.1,122.6 L317.4,122.4 L317.8,122.1 L318.1,121.8 L318.5,121.6 L318.8,121.4 L319.2,121.2 L319.5,121.0 L319.6,121.0" stroke="#c9900c"/>
<path d="M54.6,97.4 L55.0,97.0 L55.3,96.5 L55.7,98.4 L56.0,101.3 L56.4,102.5 L56.7,101.5 L57.1,100.7 L57.4,101.1 L57.8,101.5 L58.1,100.1 L58.5,98.6 L58.8,98.7 L59.2,100.2 L59.5,101.2 L59.9,101.1 L60.0,101.0 L60.2,100.9 L60.6,101.5 L60.9,102.0 L61.3,102.5 L61.6,103.0 L62.0,103.2 L62.3,103.2 L62.7,103.0 L63.0,101.7 L63.4,100.4 L63.7,100.8 L64.1,101.5 L64.4,100.4 L64.8,98.0 L65.1,96.9 L65.5,99.3 L65.8,101.6 L66.2,101.2 L66.5,101.2 L66.9,100.4 L67.2,99.3 L67.4,98.7 L67.6,98.5 L67.9,98.1 L68.3,97.9 L68.6,98.6 L69.0,99.3 L69.3,98.4 L69.7,97.2 L70.0,97.5 L70.4,99.1 L70.7,100.1 L71.1,100.1 L71.4,100.0 L71.8,98.7 L72.1,97.4 L72.5,97.7 L72.8,98.7 L73.2,99.7 L73.5,100.6 L73.9,101.5 L74.2,101.4 L74.6,101.4 L74.9,101.3 L75.3,101.2 L75.6,100.4 L76.0,99.2 L76.3,98.2 L76.5,98.1 L76.7,98.0 L77.0,97.7 L77.4,97.6 L77.7,97.4 L78.1,98.0 L78.4,98.9 L78.8,100.1 L79.1,101.7 L79.5,102.9 L79.8,101.8 L80.2,100.7 L80.5,100.5 L80.9,100.6 L81.2,100.3 L81.6,99.9 L81.9,98.7 L82.3,95.8 L82.6,93.7 L83.0,94.4 L83.3,95.1 L83.7,95.1 L84.0,94.8 L84.4,95.0 L84.7,95.9 L85.1,96.8 L85.4,96.9 L85.6,97.0 L85.8,97.0 L86.1,95.6 L86.5,93.9 L86.8,93.4 L87.2,93.7 L87.5,94.0 L87.9,94.2 L88.2,94.4 L88.6,93.5 L88.9,92.7 L89.3,92.3 L89.6,92.1 L90.0,91.9 L90.3,91.7 L90.7,91.7 L91.0,92.6 L91.4,93.5 L91.7,92.4 L92.1,91.1 L92.4,91.2 L92.8,92.4 L93.1,93.0 L93.5,92.2 L93.8,91.4 L94.2,91.6 L94.5,91.9 L94.7,92.1 L94.9,92.2 L95.2,92.6 L95.6,92.1 L95.9,90.5 L96.3,89.1 L96.6,88.8 L97.0,88.5 L97.3,89.0 L97.7,89.6 L98.0,89.2 L98.4,88.0 L98.4,87.8 L98.7,87.1 L99.1,86.9 L99.4,86.8 L99.8,86.8 L100.1,86.7 L100.5,86.4 L100.8,86.0 L101.2,85.1 L101.5,83.4 L101.5,83.4 L101.9,81.4 L102.2,80.2 L102.6,79.5 L102.7,79.6 L102.9,81.4 L103.2,86.5 L103.3,87.4 L103.6,94.5 L103.7,95.3 L104.0,95.4 L104.3,93.3 L104.3,93.3 L104.7,92.1 L105.0,90.7 L105.4,90.2 L105.5,90.0 L105.7,89.8 L106.1,89.1 L106.4,88.0 L106.8,86.4 L106.8,86.1 L107.1,82.9 L107.5,77.1 L107.8,71.6 L107.8,71.6 L108.2,67.3 L108.5,63.6 L108.9,58.9 L108.9,58.1 L109.2,50.8 L109.3,48.0 L109.6,39.3 L109.8,35.3 L109.9,37.7 L110.2,48.0 L110.3,49.3 L110.6,58.0 L110.6,58.0 L111.0,66.1 L111.3,75.3 L111.3,75.3 L111.7,88.5 L111.8,95.1 L112.0,105.6 L112.3,119.9 L112.4,121.4 L112.7,130.9 L113.1,136.0 L113.1,136.1 L113.4,131.8 L113.7,125.2 L113.8,124.4 L114.1,119.1 L114.5,114.4 L114.8,110.4 L114.8,110.4 L115.2,107.1 L115.5,104.2 L115.9,101.5 L116.2,98.9 L116.6,96.2 L116.9,93.4 L117.3,90.5 L117.3,90.0 L117.6,87.5 L118.0,84.6 L118.3,81.5 L118.3,81.5 L118.7,76.9 L119.0,70.6 L119.3,65.3 L119.4,64.5 L119.7,59.0 L119.8,57.2 L120.1,51.6 L120.2,47.1 L120.4,44.0 L120.8,37.5 L120.9,36.5 L121.1,38.1 L121.5,45.2 L121.5,47.1 L121.8,50.6 L122.2,55.9 L122.2,57.0 L122.5,69.8 L122.5,69.8 L122.9,79.9 L122.9,80.8 L123.2,84.4 L123.6,87.3 L123.9,89.5 L124.2,91.5 L124.3,91.9 L124.6,94.2 L125.0,96.3 L125.3,98.8 L125.6,102.0 L125.7,102.8 L126.0,111.9 L126.0,111.9 L126.4,117.7 L126.6,120.5 L126.7,121.3 L127.1,123.9 L127.4,125.9 L127.8,127.6 L128.1,129.4 L128.2,130.0 L128.5,131.1 L128.8,132.7 L129.2,134.3 L129.5,136.0 L129.9,137.8 L130.0,138.6 L130.2,139.7 L130.6,141.7 L130.9,143.6 L131.3,145.5 L131.6,147.6 L131.8,148.9 L132.0,149.8 L132.3,152.0 L132.7,153.8 L133.0,155.4 L133.3,156.9 L133.4,157.1 L133.7,158.7 L134.1,160.1 L134.4,161.4 L134.8,162.3 L135.1,162.9 L135.5,163.2 L135.8,163.6 L135.8,163.6 L136.2,163.6 L136.5,163.1 L136.9,162.3 L137.2,161.3 L137.6,160.1 L137.9,159.0 L138.3,158.0 L138.6,157.0 L139.0,156.0 L139.0,155.9 L139.3,155.2 L139.7,154.4 L140.0,153.7 L140.4,153.0 L140.7,152.1 L141.1,151.1 L141.4,149.7 L141.6,148.8 L141.8,148.1 L142.1,146.5 L142.5,144.7 L142.8,143.0 L143.1,141.6 L143.2,141.3 L143.5,139.8 L143.9,138.3 L144.2,136.8 L144.5,134.9 L144.6,134.6 L144.9,132.4 L145.3,131.0 L145.6,130.0 L146.0,128.8 L146.1,128.3 L146.3,127.6 L146.7,126.5 L147.0,126.0 L147.4,125.5 L147.6,124.9 L147.7,124.6 L148.1,123.5 L148.4,122.7 L148.8,121.9 L149.1,121.3 L149.5,120.8 L149.8,120.3 L150.0,120.1 L150.2,120.0 L150.5,119.6 L150.9,119.1 L151.2,118.5 L151.6,117.8 L151.9,117.0 L152.3,116.3 L152.6,116.4 L153.0,116.4 L153.1,116.1 L153.3,115.7 L153.7,114.8 L154.0,114.2 L154.4,113.7 L154.7,113.2 L155.1,112.6 L155.4,112.1 L155.8,111.4 L156.1,110.8 L156.5,110.4 L156.8,110.0 L157.2,109.7 L157.3,109.6 L157.5,109.4 L157.9,109.2 L158.2,108.9 L158.6,108.7 L158.9,108.4 L159.3,108.2 L159.6,108.0 L160.0,107.7 L160.3,107.3 L160.7,106.9 L161.0,106.5 L161.4,106.4 L161.7,106.4 L162.1,106.4 L162.4,106.4 L162.8,106.3 L163.1,106.1 L163.5,105.9 L163.8,105.6 L164.2,105.4 L164.5,105.3 L164.9,105.2 L165.0,105.2 L165.2,105.2 L165.6,105.1 L165.9,105.1 L166.3,105.0 L166.6,105.0 L167.0,105.0 L167.3,104.9 L167.7,104.6 L168.0,104.2 L168.4,104.0 L168.7,103.9 L169.1,103.9 L169.4,104.0 L169.8,104.2 L170.1,104.2 L170.5,104.1 L170.8,104.1 L171.2,104.0 L171.5,103.8 L171.9,103.1 L172.2,102.4 L172.6,102.7 L172.9,103.0 L173.3,102.7 L173.6,102.2 L174.0,102.1 L174.3,102.7 L174.7,103.2 L175.0,103.0 L175.4,102.9 L175.7,102.9 L176.1,102.9 L176.4,102.8 L176.8,102.8 L177.1,102.8 L177.4,103.0 L177.5,103.0 L177.8,103.3 L178.2,103.0 L178.5,102.8 L178.9,102.9 L179.2,103.1 L179.6,103.3 L179.9,103.2 L180.3,103.2 L180.6,103.2 L181.0,103.3 L181.3,103.3 L181.7,103.4 L182.0,103.5 L182.4,103.5 L182.7,103.5 L183.1,103.4 L183.4,103.3 L183.8,103.7 L184.1,104.1 L184.5,104.2 L184.8,104.3 L185.2,104.4 L185.5,104.4 L185.9,104.4 L186.2,104.6 L186.5,104.8 L186.6,104.9 L186.9,105.0 L187.3,105.2 L187.6,105.2 L188.0,105.0 L188.3,105.0 L188.7,105.4 L189.0,105.7 L189.4,105.9 L189.7,106.1 L190.1,106.3 L190.4,106.5 L190.8,106.8 L191.1,107.3 L191.5,107.7 L191.8,107.8 L192.2,108.0 L192.5,108.3 L192.9,108.7 L193.2,109.1 L193.6,109.6 L193.9,110.0 L194.3,110.4 L194.6,110.7 L195.0,111.1 L195.3,111.4 L195.7,112.0 L196.0,112.7 L196.4,113.0 L196.7,113.0 L197.1,113.0 L197.4,113.5 L197.4,113.5 L197.8,113.9 L198.1,114.2 L198.5,114.3 L198.8,114.8 L199.2,115.5 L199.5,116.2 L199.9,116.7 L200.2,117.3 L200.6,117.8 L200.9,118.3 L201.3,118.6 L201.6,118.8 L202.0,119.2 L202.3,119.7 L202.7,120.3 L203.0,121.1 L203.4,121.8 L203.7,122.2 L204.1,122.5 L204.4,123.0 L204.8,123.7 L205.1,124.2 L205.5,124.4 L205.5,124.4 L205.8,124.6 L206.2,125.4 L206.5,126.3 L206.9,126.9 L207.2,127.3 L207.6,127.7 L207.9,128.2 L208.3,128.6 L208.6,128.9 L209.0,129.2 L209.3,129.8 L209.7,130.4 L210.0,131.0 L210.4,131.5 L210.7,132.0 L211.1,132.5 L211.4,133.0 L211.8,133.4 L212.1,133.8 L212.5,134.3 L212.8,134.7 L213.0,134.9 L213.2,135.1 L213.5,135.6 L213.9,136.1 L214.2,136.7 L214.6,137.3 L214.9,137.3 L215.3,137.2 L215.6,137.5 L216.0,138.0 L216.3,138.4 L216.7,138.8 L217.0,139.2 L217.4,139.7 L217.7,140.2 L218.1,140.6 L218.4,140.8 L218.8,141.2 L219.1,142.0 L219.5,142.6 L219.8,142.9 L220.2,143.3 L220.5,143.6 L220.9,143.9 L221.2,144.2 L221.6,144.5 L221.9,144.8 L222.3,145.3 L222.6,145.8 L223.0,146.1 L223.3,146.5 L223.7,146.8 L224.0,147.2 L224.4,147.4 L224.7,147.6 L225.1,147.8 L225.4,148.3 L225.8,148.8 L226.1,148.9 L226.5,148.9 L226.8,149.2 L227.2,149.9 L227.4,150.4 L227.5,150.3 L227.9,149.9 L228.2,149.5 L228.6,150.2 L228.9,150.8 L229.3,151.1 L229.6,151.3 L230.0,151.6 L230.3,152.1 L230.7,152.5 L231.0,152.4 L231.4,152.3 L231.7,152.9 L232.1,153.6 L232.4,153.8 L232.8,153.4 L233.1,153.4 L233.5,154.2 L233.8,154.9 L234.2,154.9 L234.5,154.9 L234.9,154.9 L235.2,155.1 L235.6,155.3 L235.9,155.5 L236.3,155.8 L236.6,156.3 L237.0,156.8 L237.3,156.8 L237.7,156.9 L238.0,156.7 L238.4,156.4 L238.7,156.5 L239.1,157.2 L239.4,157.9 L239.8,158.0 L240.1,158.1 L240.5,158.1 L240.8,158.0 L241.2,158.3 L241.5,158.9 L241.9,159.4 L242.0,159.4 L242.2,159.4 L242.6,159.3 L242.9,159.7 L243.3,160.2 L243.6,160.6 L244.0,160.8 L244.3,161.1 L244.7,161.2 L245.0,161.3 L245.4,161.8 L245.7,162.3 L246.1,162.4 L246.4,162.4 L246.8,162.7 L247.1,163.1 L247.5,163.6 L247.8,163.8 L248.2,164.0 L248.5,164.3 L248.9,164.7 L249.2,165.2 L249.6,165.9 L249.9,166.4 L250.3,166.4 L250.6,166.5 L251.0,166.7 L251.1,166.8 L251.3,166.9 L251.7,167.3 L252.0,167.9 L252.4,168.3 L252.7,168.7 L253.1,169.0 L253.4,169.6 L253.8,170.2 L254.1,170.7 L254.5,171.2 L254.8,171.7 L255.2,172.2 L255.5,172.8 L255.9,173.3 L256.0,173.5 L256.2,173.8 L256.6,174.4 L256.9,174.9 L257.3,175.7 L257.6,176.5 L258.0,177.4 L258.3,178.2 L258.7,179.0 L259.0,179.5 L259.4,180.0 L259.7,180.8 L260.1,181.6 L260.4,182.3 L260.8,183.0 L261.1,183.7 L261.5,184.5 L261.8,185.2 L262.0,185.4 L262.2,185.6 L262.5,186.0 L262.9,186.3 L263.2,186.4 L263.6,186.7 L263.9,187.3 L264.3,187.7 L264.6,187.9 L265.0,188.0 L265.3,188.4 L265.7,188.9 L266.0,189.3 L266.4,189.8 L266.7,190.3 L267.1,190.7 L267.4,191.0 L267.8,191.3 L268.1,191.6 L268.5,191.7 L268.8,191.7 L269.2,191.8 L269.3,191.8 L269.5,191.8 L269.9,191.8 L270.2,192.2 L270.6,192.7 L270.9,192.8 L271.3,192.8 L271.6,193.0 L272.0,193.2 L272.3,193.4 L272.7,193.4 L273.0,193.5 L273.4,193.6 L273.7,193.7 L274.0,193.7 L274.1,193.7 L274.4,193.7 L274.8,193.7 L275.1,193.6 L275.5,193.6 L275.8,193.3 L276.2,193.0 L276.5,193.0 L276.9,193.1 L277.2,193.0 L277.6,192.7 L277.9,192.5 L278.3,192.5 L278.6,192.5 L279.0,192.8 L279.0,192.8 L279.3,193.1 L279.7,193.1 L280.0,192.9 L280.4,192.8 L280.7,192.7 L281.1,192.8 L281.4,193.4 L281.8,194.0 L282.1,194.2 L282.5,194.3 L282.8,194.5 L283.2,194.7 L283.5,194.8 L283.9,194.8 L284.2,194.7 L284.6,194.8 L284.8,194.8 L284.9,194.8 L285.3,194.6 L285.6,194.1 L286.0,193.5 L286.3,192.8 L286.7,192.0 L287.0,191.5 L287.4,190.8 L287.7,189.6 L288.1,188.3 L288.4,187.1 L288.8,186.1 L289.1,185.1 L289.5,184.1 L289.8,183.3 L290.0,183.0 L290.2,182.9 L290.5,182.5 L290.9,181.8 L291.2,180.9 L291.6,180.0 L291.9,179.2 L292.3,178.3 L292.6,177.7 L293.0,177.1 L293.0,177.0 L293.3,176.5 L293.7,175.9 L294.0,175.3 L294.4,174.8 L294.7,174.1 L295.1,173.0 L295.4,172.0 L295.8,171.8 L296.1,171.6 L296.5,170.9 L296.8,170.2 L297.2,169.4 L297.5,168.8 L297.9,168.1 L298.2,167.5 L298.6,167.0 L298.9,166.5 L299.3,166.1 L299.6,165.7 L300.0,165.2 L300.3,164.7 L300.7,163.8 L301.0,163.0 L301.4,162.4 L301.7,161.9 L302.1,161.1 L302.1,161.0 L302.4,160.3 L302.8,159.6 L303.1,159.1 L303.5,158.6 L303.8,158.0 L304.2,157.3 L304.5,156.3 L304.9,155.3 L305.2,154.5 L305.6,153.9 L305.9,153.4 L306.3,152.9 L306.6,152.5 L307.0,151.4 L307.3,150.4 L307.7,149.9 L308.0,149.6 L308.4,149.3 L308.7,149.0 L309.1,148.6 L309.4,147.9 L309.5,147.7 L309.8,147.2 L310.1,147.1 L310.5,147.0 L310.8,146.8 L311.2,146.6 L311.5,146.5 L311.9,146.4 L312.2,146.3 L312.6,145.7 L312.9,145.2 L313.3,145.2 L313.6,145.3 L314.0,145.3 L314.3,145.0 L314.7,144.8 L315.0,144.8 L315.0,144.8 L315.4,144.7 L315.7,144.6 L316.1,144.5 L316.4,144.3 L316.8,144.0 L317.1,143.8 L317.5,143.7 L317.8,143.6 L318.2,143.2 L318.5,142.7 L318.9,142.6 L319.2,142.6 L319.5,142.5" stroke="#20c9c9"/>
<path d="M54.6,94.6 L55.0,94.7 L55.3,94.7 L55.7,94.8 L56.0,94.8 L56.4,94.9 L56.7,94.9 L57.1,95.0 L57.4,95.0 L57.8,95.0 L58.1,95.1 L58.5,95.1 L58.8,95.2 L59.2,95.2 L59.5,95.2 L59.9,95.3 L60.2,95.3 L60.6,95.3 L60.9,95.4 L61.3,95.4 L61.6,95.4 L62.0,95.4 L62.3,95.4 L62.7,95.5 L63.0,95.5 L63.4,95.5 L63.7,95.5 L64.1,95.5 L64.4,95.5 L64.8,95.6 L65.1,95.6 L65.5,95.6 L65.8,95.6 L66.2,95.6 L66.5,95.6 L66.9,95.6 L67.2,95.6 L67.4,95.6 L67.6,95.6 L67.9,95.6 L68.3,95.6 L68.6,95.6 L69.0,95.6 L69.3,95.5 L69.7,95.5 L70.0,95.5 L70.4,95.5 L70.7,95.5 L71.1,95.4 L71.4,95.4 L71.8,95.4 L72.1,95.3 L72.5,95.3 L72.8,95.3 L73.2,95.2 L73.5,95.2 L73.9,95.2 L74.2,95.2 L74.6,95.1 L74.9,95.1 L75.3,95.1 L75.6,95.0 L76.0,95.0 L76.3,95.0 L76.5,95.0 L76.7,95.0 L77.0,95.0 L77.4,95.0 L77.7,95.0 L78.1,94.9 L78.4,94.9 L78.8,94.9 L79.1,94.9 L79.5,94.9 L79.8,94.9 L80.2,94.9 L80.5,94.9 L80.9,94.9 L81.2,94.9 L81.6,94.9 L81.9,94.8 L82.3,94.8 L82.6,94.8 L83.0,94.8 L83.3,94.8 L83.7,94.8 L84.0,94.8 L84.4,94.8 L84.7,94.7 L85.1,94.7 L85.4,94.7 L85.6,94.7 L85.8,94.7 L86.1,94.7 L86.5,94.6 L86.8,94.6 L87.2,94.6 L87.5,94.5 L87.9,94.5 L88.2,94.4 L88.6,94.3 L88.9,94.3 L89.3,94.2 L89.6,94.1 L90.0,94.0 L90.3,94.0 L90.7,93.9 L91.0,93.8 L91.4,93.7 L91.7,93.6 L92.1,93.5 L92.4,93.4 L92.8,93.3 L93.1,93.2 L93.5,93.1 L93.8,93.0 L94.2,92.9 L94.5,92.8 L94.7,92.7 L94.9,92.7 L95.2,92.5 L95.6,92.4 L95.9,92.3 L96.3,92.1 L96.6,92.0 L97.0,91.8 L97.3,91.6 L97.7,91.4 L98.0,91.2 L98.4,91.0 L98.4,91.0 L98.7,90.8 L99.1,90.5 L99.4,90.3 L99.8,89.9 L100.1,89.6 L100.4,89.2 L100.5,89.1 L100.8,88.6 L101.2,88.0 L101.5,87.2 L101.9,86.4 L102.0,86.0 L102.2,85.3 L102.6,83.6 L102.9,82.3 L103.1,82.0 L103.3,82.6 L103.6,86.7 L103.7,88.0 L104.0,92.7 L104.2,95.8 L104.3,95.7 L104.7,94.9 L104.8,94.5 L105.0,94.1 L105.4,93.6 L105.7,93.0 L106.0,92.5 L106.1,92.4 L106.4,91.8 L106.8,91.2 L107.1,90.4 L107.5,89.2 L107.5,89.0 L107.8,86.5 L108.2,81.2 L108.5,75.0 L108.5,75.0 L108.9,68.2 L109.2,59.5 L109.2,58.0 L109.5,48.0 L109.6,46.3 L109.8,41.5 L109.9,44.6 L110.0,48.0 L110.2,58.0 L110.3,58.0 L110.6,65.4 L111.0,71.4 L111.1,75.0 L111.3,82.1 L111.6,95.0 L111.7,97.1 L112.0,113.2 L112.2,120.0 L112.4,123.5 L112.7,130.7 L113.1,134.2 L113.1,134.3 L113.4,131.6 L113.8,125.7 L113.8,125.0 L114.1,121.0 L114.5,116.4 L114.8,112.1 L115.0,110.0 L115.2,108.6 L115.5,105.5 L115.9,102.8 L116.2,100.3 L116.6,97.9 L116.9,95.4 L117.3,92.9 L117.6,90.0 L117.6,90.0 L118.0,87.0 L118.3,83.8 L118.5,81.0 L118.7,79.7 L119.0,74.2 L119.4,67.8 L119.5,65.0 L119.7,60.8 L119.9,57.0 L120.1,55.0 L120.4,51.2 L120.5,50.5 L120.8,48.9 L120.9,48.5 L121.1,49.2 L121.3,50.5 L121.5,51.5 L121.8,55.1 L121.9,57.0 L122.1,70.0 L122.2,73.2 L122.3,81.0 L122.5,84.2 L122.9,87.7 L123.2,89.9 L123.5,92.0 L123.6,92.4 L123.9,94.8 L124.3,97.1 L124.6,99.9 L124.8,102.0 L125.0,104.5 L125.3,112.0 L125.3,112.0 L125.7,117.2 L126.0,121.0 L126.0,121.0 L126.4,123.5 L126.7,125.4 L127.1,127.1 L127.4,128.6 L127.7,130.0 L127.8,130.2 L128.1,131.9 L128.5,133.4 L128.8,135.0 L129.2,136.5 L129.5,138.1 L129.7,139.0 L129.9,139.7 L130.2,141.5 L130.6,143.2 L130.9,145.0 L131.3,146.8 L131.5,148.0 L131.6,148.5 L132.0,150.3 L132.3,152.2 L132.7,153.8 L133.0,155.0 L133.0,155.0 L133.4,155.8 L133.7,156.6 L134.1,157.3 L134.4,157.9 L134.8,158.5 L135.1,158.9 L135.5,159.1 L135.8,159.2 L135.8,159.2 L136.2,159.1 L136.5,158.8 L136.9,158.3 L137.2,157.7 L137.6,157.1 L137.9,156.3 L138.3,155.6 L138.6,154.8 L139.0,154.1 L139.0,154.0 L139.3,153.4 L139.7,152.8 L140.0,152.1 L140.4,151.4 L140.7,150.7 L141.1,149.8 L141.4,148.9 L141.7,148.0 L141.8,147.8 L142.1,146.5 L142.5,144.8 L142.8,142.9 L143.2,141.2 L143.2,141.0 L143.5,139.7 L143.9,138.2 L144.2,136.7 L144.6,135.2 L144.6,135.0 L144.9,133.6 L145.3,132.0 L145.6,130.3 L146.0,128.9 L146.2,128.0 L146.3,127.7 L146.7,126.8 L147.0,125.9 L147.4,125.2 L147.7,124.5 L147.7,124.5 L148.1,123.8 L148.4,123.2 L148.8,122.5 L149.1,121.9 L149.5,121.4 L149.8,120.8 L150.0,120.5 L150.2,120.3 L150.5,119.8 L150.9,119.3 L151.2,118.9 L151.6,118.4 L151.9,118.0 L152.3,117.6 L152.6,117.2 L153.0,116.7 L153.1,116.5 L153.3,116.2 L153.7,115.7 L154.0,115.2 L154.4,114.6 L154.7,114.1 L155.1,113.5 L155.4,113.0 L155.8,112.4 L156.1,111.9 L156.5,111.4 L156.8,111.0 L157.2,110.6 L157.3,110.5 L157.5,110.3 L157.9,110.0 L158.2,109.7 L158.6,109.4 L158.9,109.1 L159.3,108.9 L159.6,108.6 L160.0,108.3 L160.3,108.1 L160.7,107.9 L161.0,107.6 L161.4,107.4 L161.7,107.2 L162.1,107.0 L162.4,106.8 L162.8,106.6 L163.1,106.4 L163.5,106.3 L163.8,106.1 L164.2,106.0 L164.5,105.8 L164.9,105.7 L165.0,105.6 L165.2,105.5 L165.6,105.4 L165.9,105.3 L166.3,105.1 L166.6,105.0 L167.0,104.8 L167.3,104.7 L167.7,104.6 L168.0,104.4 L168.4,104.3 L168.7,104.2 L169.1,104.1 L169.4,103.9 L169.8,103.8 L170.1,103.7 L170.5,103.6 L170.8,103.5 L171.2,103.4 L171.5,103.3 L171.9,103.2 L172.2,103.1 L172.6,103.0 L172.9,102.9 L173.3,102.8 L173.6,102.7 L174.0,102.7 L174.3,102.6 L174.7,102.5 L175.0,102.5 L175.4,102.4 L175.7,102.4 L176.1,102.4 L176.4,102.3 L176.8,102.3 L177.1,102.3 L177.4,102.3 L177.5,102.3 L177.8,102.3 L178.2,102.3 L178.5,102.4 L178.9,102.4 L179.2,102.5 L179.6,102.5 L179.9,102.6 L180.3,102.7 L180.6,102.8 L181.0,102.9 L181.3,103.0 L181.7,103.1 L182.0,103.2 L182.4,103.3 L182.7,103.5 L183.1,103.6 L183.4,103.7 L183.8,103.9 L184.1,104.0 L184.5,104.2 L184.8,104.3 L185.2,104.5 L185.5,104.7 L185.9,104.8 L186.2,105.0 L186.5,105.1 L186.6,105.1 L186.9,105.3 L187.3,105.5 L187.6,105.7 L188.0,105.8 L188.3,106.1 L188.7,106.3 L189.0,106.5 L189.4,106.8 L189.7,107.0 L190.1,107.3 L190.4,107.5 L190.8,107.8 L191.1,108.1 L191.5,108.4 L191.8,108.7 L192.2,109.0 L192.5,109.3 L192.9,109.7 L193.2,110.0 L193.6,110.3 L193.9,110.7 L194.3,111.0 L194.6,111.3 L195.0,111.7 L195.3,112.0 L195.7,112.4 L196.0,112.8 L196.4,113.1 L196.7,113.5 L197.1,113.8 L197.4,114.2 L197.4,114.2 L197.8,114.6 L198.1,115.0 L198.5,115.4 L198.8,115.8 L199.2,116.2 L199.5,116.6 L199.9,117.1 L200.2,117.6 L200.6,118.0 L200.9,118.5 L201.3,119.0 L201.6,119.5 L202.0,120.0 L202.3,120.5 L202.7,121.0 L203.0,121.5 L203.4,122.0 L203.7,122.5 L204.1,123.0 L204.4,123.5 L204.8,124.0 L205.1,124.4 L205.5,124.9 L205.5,125.0 L205.8,125.4 L206.2,125.9 L206.5,126.4 L206.9,126.9 L207.2,127.4 L207.6,127.9 L207.9,128.4 L208.3,128.9 L208.6,129.4 L209.0,130.0 L209.3,130.5 L209.7,131.0 L210.0,131.5 L210.4,132.0 L210.7,132.5 L211.1,133.0 L211.4,133.4 L211.8,133.9 L212.1,134.4 L212.5,134.8 L212.8,135.3 L213.0,135.5 L213.2,135.7 L213.5,136.1 L213.9,136.5 L214.2,137.0 L214.6,137.4 L214.9,137.8 L215.3,138.2 L215.6,138.6 L216.0,139.0 L216.3,139.5 L216.7,139.9 L217.0,140.3 L217.4,140.7 L217.7,141.1 L218.1,141.5 L218.4,141.9 L218.8,142.3 L219.1,142.7 L219.5,143.0 L219.8,143.4 L220.2,143.8 L220.5,144.2 L220.9,144.6 L221.2,144.9 L221.6,145.3 L221.9,145.6 L222.3,146.0 L222.6,146.3 L223.0,146.7 L223.3,147.0 L223.7,147.3 L224.0,147.7 L224.4,148.0 L224.7,148.3 L225.1,148.6 L225.4,148.9 L225.8,149.2 L226.1,149.5 L226.5,149.8 L226.8,150.0 L227.2,150.3 L227.4,150.5 L227.5,150.6 L227.9,150.8 L228.2,151.1 L228.6,151.3 L228.9,151.5 L229.3,151.8 L229.6,152.0 L230.0,152.2 L230.3,152.4 L230.7,152.6 L231.0,152.8 L231.4,153.0 L231.7,153.2 L232.1,153.4 L232.4,153.5 L232.8,153.7 L233.1,153.9 L233.5,154.1 L233.8,154.3 L234.2,154.4 L234.5,154.6 L234.9,154.8 L235.2,154.9 L235.6,155.1 L235.9,155.3 L236.3,155.5 L236.6,155.6 L237.0,155.8 L237.3,156.0 L237.7,156.2 L238.0,156.4 L238.4,156.6 L238.7,156.7 L239.1,156.9 L239.4,157.1 L239.8,157.3 L240.1,157.6 L240.5,157.8 L240.8,158.0 L241.2,158.2 L241.5,158.5 L241.9,158.7 L242.0,158.8 L242.2,158.9 L242.6,159.2 L242.9,159.5 L243.3,159.7 L243.6,160.0 L244.0,160.3 L244.3,160.5 L244.7,160.8 L245.0,161.1 L245.4,161.4 L245.7,161.7 L246.1,162.0 L246.4,162.3 L246.8,162.6 L247.1,163.0 L247.5,163.3 L247.8,163.6 L248.2,164.0 L248.5,164.3 L248.9,164.6 L249.2,165.0 L249.6,165.4 L249.9,165.7 L250.3,166.1 L250.6,166.5 L251.0,166.8 L251.1,167.0 L251.3,167.2 L251.7,167.6 L252.0,168.0 L252.4,168.4 L252.7,168.9 L253.1,169.3 L253.4,169.8 L253.8,170.2 L254.1,170.7 L254.5,171.2 L254.8,171.7 L255.2,172.2 L255.5,172.7 L255.9,173.3 L256.0,173.5 L256.2,173.8 L256.6,174.4 L256.9,175.1 L257.3,175.8 L257.6,176.5 L258.0,177.3 L258.3,178.0 L258.7,178.8 L259.0,179.6 L259.4,180.4 L259.7,181.1 L260.1,181.9 L260.4,182.6 L260.8,183.3 L261.1,184.0 L261.5,184.6 L261.8,185.2 L262.0,185.5 L262.2,185.7 L262.5,186.2 L262.9,186.7 L263.2,187.3 L263.6,187.8 L263.9,188.3 L264.3,188.8 L264.6,189.2 L265.0,189.7 L265.3,190.2 L265.7,190.6 L266.0,191.0 L266.4,191.5 L266.7,191.8 L267.1,192.2 L267.4,192.5 L267.8,192.8 L268.1,193.1 L268.5,193.4 L268.8,193.6 L269.2,193.7 L269.3,193.8 L269.5,193.9 L269.9,194.0 L270.2,194.1 L270.6,194.3 L270.9,194.4 L271.3,194.5 L271.6,194.6 L272.0,194.7 L272.3,194.8 L272.7,194.9 L273.0,194.9 L273.4,195.0 L273.7,195.0 L274.0,195.0 L274.1,195.0 L274.4,195.0 L274.8,194.9 L275.1,194.9 L275.5,194.7 L275.8,194.6 L276.2,194.5 L276.5,194.3 L276.9,194.1 L277.2,193.9 L277.6,193.7 L277.9,193.4 L278.3,193.2 L278.6,192.9 L279.0,192.6 L279.3,192.4 L279.7,192.1 L280.0,191.8 L280.4,191.5 L280.7,191.2 L281.1,190.9 L281.4,190.6 L281.8,190.3 L282.0,190.1 L282.1,190.0 L282.5,189.7 L282.8,189.4 L283.2,189.1 L283.5,188.8 L283.9,188.4 L284.2,188.0 L284.6,187.7 L284.9,187.3 L285.3,186.9 L285.6,186.5 L286.0,186.1 L286.3,185.6 L286.7,185.2 L287.0,184.7 L287.4,184.3 L287.7,183.8 L288.1,183.4 L288.4,182.9 L288.8,182.4 L289.1,181.9 L289.5,181.4 L289.8,181.0 L290.2,180.5 L290.5,180.0 L290.9,179.5 L291.2,179.0 L291.6,178.5 L291.9,178.0 L292.3,177.5 L292.6,177.0 L293.0,176.5 L293.0,176.4 L293.3,176.0 L293.7,175.5 L294.0,174.9 L294.4,174.4 L294.7,173.9 L295.1,173.4 L295.4,172.8 L295.8,172.3 L296.1,171.7 L296.5,171.2 L296.8,170.6 L297.2,170.0 L297.5,169.5 L297.9,168.9 L298.2,168.3 L298.6,167.7 L298.9,167.1 L299.3,166.5 L299.6,165.9 L300.0,165.3 L300.3,164.7 L300.7,164.1 L301.0,163.5 L301.4,162.8 L301.7,162.2 L302.1,161.6 L302.1,161.5 L302.4,160.9 L302.8,160.3 L303.1,159.5 L303.5,158.8 L303.8,158.0 L304.2,157.2 L304.5,156.4 L304.9,155.6 L305.2,154.8 L305.6,154.0 L305.9,153.2 L306.3,152.4 L306.6,151.7 L307.0,150.9 L307.3,150.2 L307.7,149.6 L308.0,149.0 L308.4,148.4 L308.7,147.9 L309.1,147.4 L309.4,147.0 L309.5,146.9 L309.8,146.7 L310.1,146.3 L310.5,146.0 L310.8,145.7 L311.2,145.4 L311.5,145.1 L311.9,144.9 L312.2,144.6 L312.6,144.4 L312.9,144.2 L313.3,144.0 L313.6,143.8 L314.0,143.6 L314.3,143.4 L314.7,143.3 L315.0,143.2 L315.0,143.2 L315.4,143.1 L315.7,143.0 L316.1,142.9 L316.4,142.8 L316.8,142.7 L317.1,142.6 L317.5,142.5 L317.8,142.5 L318.2,142.4 L318.5,142.4 L318.9,142.3 L319.2,142.3 L319.5,142.3" stroke="#7d3f3f"/>
</g>
<g stroke="#000" stroke-width="1.7" fill="none">
<rect x="45.0" y="6.55" width="279.6" height="226.1"/>
<line x1="40.4" y1="232.7" x2="45.0" y2="232.7"/>
<line x1="42.4" y1="210.1" x2="45.0" y2="210.1"/>
<line x1="40.4" y1="187.5" x2="45.0" y2="187.5"/>
<line x1="42.4" y1="164.9" x2="45.0" y2="164.9"/>
<line x1="40.4" y1="142.2" x2="45.0" y2="142.2"/>
<line x1="42.4" y1="119.6" x2="45.0" y2="119.6"/>
<line x1="40.4" y1="97.0" x2="45.0" y2="97.0"/>
<line x1="42.4" y1="74.4" x2="45.0" y2="74.4"/>
<line x1="40.4" y1="51.8" x2="45.0" y2="51.8"/>
<line x1="42.4" y1="29.2" x2="45.0" y2="29.2"/>
<line x1="40.4" y1="6.5" x2="45.0" y2="6.5"/>
<line x1="45.0" y1="232.7" x2="45.0" y2="237.0"/>
<line x1="75.3" y1="232.7" x2="75.3" y2="235.0"/>
<line x1="93.0" y1="232.7" x2="93.0" y2="235.0"/>
<line x1="105.6" y1="232.7" x2="105.6" y2="235.0"/>
<line x1="115.3" y1="232.7" x2="115.3" y2="235.0"/>
<line x1="123.3" y1="232.7" x2="123.3" y2="235.0"/>
<line x1="130.1" y1="232.7" x2="130.1" y2="235.0"/>
<line x1="135.9" y1="232.7" x2="135.9" y2="235.0"/>
<line x1="141.0" y1="232.7" x2="141.0" y2="235.0"/>
<line x1="145.6" y1="232.7" x2="145.6" y2="237.0"/>
<line x1="175.9" y1="232.7" x2="175.9" y2="235.0"/>
<line x1="193.7" y1="232.7" x2="193.7" y2="235.0"/>
<line x1="206.2" y1="232.7" x2="206.2" y2="235.0"/>
<line x1="216.0" y1="232.7" x2="216.0" y2="235.0"/>
<line x1="224.0" y1="232.7" x2="224.0" y2="235.0"/>
<line x1="230.7" y1="232.7" x2="230.7" y2="235.0"/>
<line x1="236.5" y1="232.7" x2="236.5" y2="235.0"/>
<line x1="241.7" y1="232.7" x2="241.7" y2="235.0"/>
<line x1="246.3" y1="232.7" x2="246.3" y2="237.0"/>
<line x1="276.6" y1="232.7" x2="276.6" y2="235.0"/>
<line x1="294.3" y1="232.7" x2="294.3" y2="235.0"/>
<line x1="306.9" y1="232.7" x2="306.9" y2="235.0"/>
<line x1="316.6" y1="232.7" x2="316.6" y2="235.0"/>
<line x1="324.6" y1="232.7" x2="324.6" y2="235.0"/>
</g>
<g font-size="11.4" text-anchor="end">
<text transform="translate(36.4,10.0) scale(0.92,1)">1.0</text>
<text transform="translate(36.4,55.3) scale(0.92,1)">0.8</text>
<text transform="translate(36.4,100.6) scale(0.92,1)">0.6</text>
<text transform="translate(36.4,145.8) scale(0.92,1)">0.4</text>
<text transform="translate(36.4,191.1) scale(0.92,1)">0.2</text>
<text transform="translate(36.4,236.4) scale(0.92,1)">0.0</text>
</g>
<g font-size="12" text-anchor="middle">
<text transform="translate(44.5,248.2) scale(0.86,1)">100</text>
<text transform="translate(145.4,248.2) scale(0.86,1)">1000</text>
<text transform="translate(246.1,248.2) scale(0.86,1)">10000</text>
</g>
<text transform="translate(50.3,25.8) scale(1.06,1)" font-size="11.3">(a)</text>
<text x="138" y="270.2" font-size="12.9">Frequency (cm<tspan font-size="8" dy="-4.8">-1</tspan><tspan dy="4.8">)</tspan></text>
<text transform="translate(9.7,145.2) rotate(-90)" font-size="12.9">Reflectance</text>
<line x1="48.0" y1="144.2" x2="70.4" y2="144.2" stroke="#3d3d3d" stroke-width="2.5"/>
<text x="70.8" y="147.1" font-size="8.7" letter-spacing="0.3">Vacuum-exp.</text>
<line x1="48.0" y1="155.5" x2="70.4" y2="155.5" stroke="#ef3030" stroke-width="2.5"/>
<text x="70.8" y="158.4" font-size="8.7" letter-spacing="0.3">Vacuum-fit</text>
<line x1="48.0" y1="166.9" x2="70.4" y2="166.9" stroke="#1464dc" stroke-width="2.5"/>
<text x="70.8" y="169.8" font-size="8.7" letter-spacing="0.3">10 mTorr-exp.</text>
<line x1="48.0" y1="178.2" x2="70.4" y2="178.2" stroke="#23a455" stroke-width="2.5"/>
<text x="70.8" y="181.2" font-size="8.7" letter-spacing="0.3">10 mTorr-fit</text>
<line x1="48.0" y1="189.6" x2="70.4" y2="189.6" stroke="#b684e2" stroke-width="2.5"/>
<text x="70.8" y="192.5" font-size="8.7" letter-spacing="0.3">35 mTorr-exp.</text>
<line x1="48.0" y1="200.9" x2="70.4" y2="200.9" stroke="#c9900c" stroke-width="2.5"/>
<text x="70.8" y="203.8" font-size="8.7" letter-spacing="0.3">35 mTorr-fit</text>
<line x1="48.0" y1="212.3" x2="70.4" y2="212.3" stroke="#20c9c9" stroke-width="2.5"/>
<text x="70.8" y="215.2" font-size="8.7" letter-spacing="0.3">50 mTorr-exp.</text>
<line x1="48.0" y1="223.6" x2="70.4" y2="223.6" stroke="#7d3f3f" stroke-width="2.5"/>
<text x="70.8" y="226.5" font-size="8.7" letter-spacing="0.3">50 mTorr-fit</text>

<!-- ================= panel (b) ================= -->
<g fill="none" stroke-linejoin="round" stroke-linecap="round" stroke-width="2.1">
<path d="M411.0,159.5 L411.2,159.2 L411.5,158.8 L411.8,158.3 L412.0,157.7 L412.2,157.1 L412.3,157.0 L412.5,156.3 L412.8,155.1 L413.0,154.3 L413.1,154.2 L413.2,154.4 L413.5,155.6 L413.8,157.0 L414.0,158.0 L414.2,158.5 L414.5,158.9 L414.8,157.5 L415.0,157.8 L415.2,158.0 L415.5,159.4 L415.8,160.8 L416.0,162.2 L416.2,162.7 L416.5,162.5 L416.8,162.3 L417.0,162.4 L417.2,163.3 L417.5,164.2 L417.8,165.0 L418.0,165.3 L418.2,165.5 L418.5,165.6 L418.8,165.4 L419.0,164.9 L419.2,164.4 L419.5,163.9 L419.8,163.8 L420.0,163.7 L420.2,163.6 L420.5,164.5 L420.8,166.1 L421.0,167.7 L421.2,168.7 L421.3,168.5 L421.5,167.8 L421.8,166.8 L422.0,165.9 L422.2,165.4 L422.5,165.0 L422.8,164.6 L423.0,164.6 L423.2,165.2 L423.5,165.7 L423.8,166.3 L424.0,166.1 L424.2,165.8 L424.5,165.5 L424.8,165.2 L425.0,164.9 L425.2,164.6 L425.5,164.3 L425.8,164.4 L426.0,164.5 L426.2,164.5 L426.5,164.7 L426.8,164.8 L427.0,165.0 L427.2,165.0 L427.4,165.0 L427.5,164.9 L427.8,164.9 L428.0,164.8 L428.2,165.0 L428.5,165.2 L428.8,165.4 L429.0,165.2 L429.2,164.8 L429.5,164.3 L429.8,163.9 L430.0,163.9 L430.2,163.8 L430.5,163.8 L430.8,164.0 L431.0,164.3 L431.2,164.6 L431.5,164.7 L431.8,164.5 L432.0,164.3 L432.2,164.1 L432.5,164.4 L432.8,164.6 L433.0,164.8 L433.2,164.5 L433.5,164.0 L433.8,163.4 L433.8,163.3 L434.0,162.9 L434.2,162.9 L434.5,162.9 L434.8,162.9 L435.0,162.5 L435.2,162.0 L435.5,161.5 L435.8,161.6 L436.0,162.5 L436.2,163.4 L436.5,164.2 L436.8,163.1 L437.0,161.9 L437.2,160.8 L437.5,160.6 L437.8,161.2 L438.0,161.7 L438.2,162.0 L438.5,161.5 L438.8,161.0 L439.0,160.5 L439.2,160.7 L439.5,161.1 L439.8,161.5 L440.0,161.7 L440.2,161.8 L440.5,161.9 L440.8,161.9 L440.8,161.8 L441.0,161.0 L441.2,160.0 L441.5,159.1 L441.8,159.0 L442.0,159.4 L442.2,159.9 L442.5,160.1 L442.8,159.4 L443.0,158.8 L443.2,158.2 L443.5,158.9 L443.8,160.0 L444.0,161.1 L444.2,161.4 L444.5,160.7 L444.8,159.9 L445.0,159.1 L445.2,158.7 L445.5,158.2 L445.8,157.7 L446.0,157.6 L446.2,157.9 L446.5,158.1 L446.8,158.5 L447.0,159.1 L447.2,159.8 L447.5,160.5 L447.8,160.6 L448.0,160.6 L448.2,160.6 L448.5,160.6 L448.8,160.4 L449.0,160.3 L449.2,160.2 L449.5,159.4 L449.8,158.5 L450.0,157.7 L450.2,157.5 L450.5,157.7 L450.8,157.8 L451.0,158.1 L451.2,158.6 L451.5,159.2 L451.8,159.8 L452.0,159.1 L452.2,158.2 L452.5,157.2 L452.8,156.7 L453.0,156.7 L453.2,156.7 L453.5,156.7 L453.8,156.4 L454.0,156.0 L454.2,155.6 L454.5,155.3 L454.8,155.0 L455.0,154.7 L455.2,154.6 L455.5,155.3 L455.8,155.9 L456.0,156.6 L456.2,156.3 L456.5,155.9 L456.8,155.4 L457.0,155.0 L457.2,154.7 L457.5,154.4 L457.8,154.1 L458.0,153.9 L458.2,153.7 L458.5,153.5 L458.8,153.4 L459.0,153.3 L459.2,153.2 L459.5,153.1 L459.8,153.0 L460.0,152.9 L460.2,152.8 L460.5,152.1 L460.8,151.3 L461.0,150.4 L461.2,149.7 L461.5,149.2 L461.8,148.7 L462.0,148.6 L462.2,148.3 L462.2,148.2 L462.5,147.8 L462.8,147.3 L463.0,146.9 L463.2,146.4 L463.5,145.9 L463.8,145.3 L464.0,144.7 L464.2,144.1 L464.5,143.4 L464.8,142.6 L465.0,141.8 L465.2,141.0 L465.5,140.1 L465.8,139.1 L466.0,138.0 L466.2,136.6 L466.5,134.6 L466.8,132.3 L467.0,129.8 L467.2,127.2 L467.5,124.7 L467.8,122.4 L467.8,122.0 L468.0,120.2 L468.2,117.7 L468.5,116.2 L468.6,116.0 L468.8,120.1 L469.0,136.9 L469.2,150.0 L469.3,150.5 L469.5,148.9 L469.8,143.9 L470.0,137.7 L470.2,132.7 L470.3,132.0 L470.5,129.9 L470.8,127.8 L471.0,126.0 L471.2,124.2 L471.5,122.0 L471.8,119.6 L472.0,117.1 L472.2,114.5 L472.5,111.5 L472.8,108.1 L473.0,104.0 L473.2,98.2 L473.5,90.2 L473.8,81.5 L474.0,73.0 L474.1,70.0 L474.2,65.4 L474.5,57.3 L474.8,49.8 L475.0,44.3 L475.1,43.0 L475.2,41.6 L475.5,39.8 L475.8,38.4 L476.0,37.6 L476.2,37.1 L476.5,36.7 L476.8,36.5 L476.8,36.5 L477.0,36.6 L477.2,36.8 L477.5,37.2 L477.7,37.6 L477.8,37.7 L478.0,38.7 L478.2,40.5 L478.5,43.0 L478.8,49.3 L479.0,61.0 L479.2,76.6 L479.3,80.0 L479.5,100.1 L479.8,133.5 L479.8,140.0 L480.0,172.3 L480.2,204.7 L480.3,206.0 L480.5,203.4 L480.8,195.6 L481.0,187.3 L481.1,185.0 L481.2,182.4 L481.5,178.6 L481.8,175.3 L482.0,172.3 L482.2,169.3 L482.5,166.3 L482.6,165.0 L482.8,163.1 L483.0,160.0 L483.2,157.0 L483.5,154.1 L483.8,151.1 L484.0,148.1 L484.2,144.8 L484.5,141.3 L484.8,137.5 L484.9,135.0 L485.0,133.2 L485.2,128.0 L485.5,121.9 L485.8,115.4 L486.0,108.4 L486.2,101.4 L486.5,94.5 L486.8,88.0 L487.0,82.1 L487.1,80.0 L487.2,76.9 L487.5,71.8 L487.8,66.9 L488.0,62.2 L488.2,57.9 L488.5,54.0 L488.8,50.6 L488.8,50.0 L489.0,47.6 L489.2,44.5 L489.5,41.5 L489.8,38.9 L490.0,36.7 L490.2,35.3 L490.5,34.8 L490.8,34.9 L491.0,35.3 L491.2,35.9 L491.5,36.6 L491.6,37.0 L491.8,38.3 L492.0,43.3 L492.2,50.9 L492.5,60.0 L492.8,78.1 L493.0,100.6 L493.2,108.7 L493.2,108.2 L493.5,94.1 L493.8,71.5 L493.9,60.0 L494.0,53.3 L494.2,38.5 L494.3,37.0 L494.5,33.4 L494.8,30.6 L495.0,28.0 L495.2,24.6 L495.5,21.1 L495.8,19.3 L495.8,19.2 L496.0,20.3 L496.2,23.5 L496.5,27.0 L496.6,28.0 L496.8,29.3 L497.0,31.3 L497.2,33.0 L497.5,34.0 L497.8,34.4 L498.0,34.7 L498.2,34.9 L498.5,35.1 L498.8,35.3 L499.0,35.4 L499.2,35.6 L499.5,35.9 L499.6,36.0 L499.8,36.2 L500.0,36.6 L500.2,37.0 L500.5,37.5 L500.8,38.0 L501.0,38.5 L501.2,39.1 L501.5,39.7 L501.8,40.3 L502.0,40.9 L502.2,41.5 L502.5,42.1 L502.8,42.7 L503.0,43.3 L503.2,43.9 L503.3,44.0 L503.5,44.4 L503.8,45.0 L504.0,45.5 L504.2,45.9 L504.5,46.4 L504.8,47.0 L505.0,47.5 L505.2,48.1 L505.5,48.7 L505.8,49.4 L506.0,50.2 L506.1,50.5 L506.2,51.0 L506.5,52.1 L506.8,53.3 L507.0,54.6 L507.2,56.1 L507.5,57.8 L507.8,59.6 L507.8,60.0 L508.0,61.6 L508.2,63.8 L508.5,66.3 L508.8,69.0 L509.0,72.0 L509.2,75.4 L509.5,79.0 L509.8,83.0 L510.0,87.3 L510.2,91.9 L510.5,97.0 L510.8,103.2 L511.0,111.2 L511.2,120.6 L511.5,131.1 L511.7,140.0 L511.8,142.5 L512.0,158.8 L512.2,173.3 L512.3,175.0 L512.5,180.2 L512.8,185.8 L513.0,190.4 L513.2,194.3 L513.5,197.5 L513.8,200.2 L514.0,202.4 L514.2,204.3 L514.5,206.1 L514.8,207.6 L515.0,208.9 L515.2,210.0 L515.5,210.9 L515.5,211.0 L515.8,211.5 L516.0,212.2 L516.2,212.8 L516.5,213.4 L516.8,213.8 L517.0,214.2 L517.2,214.5 L517.5,214.6 L517.6,214.6 L517.8,214.6 L518.0,214.6 L518.2,214.5 L518.5,214.4 L518.8,214.4 L519.0,214.3 L519.2,214.1 L519.5,214.0 L519.8,213.9 L520.0,213.7 L520.2,213.6 L520.5,213.4 L520.8,213.3 L521.0,213.1 L521.2,213.0 L521.5,212.8 L521.8,212.7 L522.0,212.6 L522.2,212.5 L522.5,212.4 L522.8,212.3 L523.0,212.2 L523.2,212.1 L523.5,212.0 L523.8,211.9 L524.0,211.8 L524.2,211.7 L524.5,211.6 L524.8,211.5 L525.0,211.4 L525.2,211.3 L525.5,211.2 L525.8,211.1 L526.0,211.0 L526.2,210.9 L526.5,210.8 L526.8,210.6 L527.0,210.5 L527.2,210.4 L527.5,210.3 L527.6,210.3 L527.8,210.2 L528.0,210.1 L528.2,210.0 L528.5,209.9 L528.8,209.8 L529.0,209.7 L529.2,209.6 L529.5,209.5 L529.8,209.4 L530.0,209.3 L530.2,209.1 L530.5,209.0 L530.8,208.9 L531.0,208.8 L531.2,208.7 L531.5,208.6 L531.8,208.5 L532.0,208.3 L532.2,208.2 L532.5,208.1 L532.8,208.0 L533.0,207.9 L533.2,207.8 L533.5,207.7 L533.8,207.6 L534.0,207.4 L534.2,207.3 L534.5,207.2 L534.8,207.1 L535.0,207.0 L535.2,206.9 L535.5,206.8 L535.8,206.7 L536.0,206.6 L536.2,206.5 L536.5,206.4 L536.8,206.3 L537.0,206.2 L537.2,206.1 L537.5,206.0 L537.8,206.0 L538.0,205.9 L538.2,205.8 L538.5,205.7 L538.8,205.6 L539.0,205.5 L539.2,205.5 L539.5,205.4 L539.8,205.3 L540.0,205.2 L540.2,205.2 L540.5,205.1 L540.8,205.0 L541.0,204.9 L541.2,204.8 L541.5,204.8 L541.8,204.7 L542.0,204.6 L542.2,204.6 L542.5,204.5 L542.8,204.4 L543.0,204.3 L543.2,204.3 L543.5,204.2 L543.8,204.1 L544.0,204.1 L544.2,204.0 L544.5,203.9 L544.8,203.9 L545.0,203.8 L545.2,203.7 L545.5,203.7 L545.8,203.6 L546.0,203.5 L546.2,203.5 L546.5,203.4 L546.8,203.3 L547.0,203.3 L547.2,203.2 L547.5,203.2 L547.8,203.1 L548.0,203.0 L548.2,203.0 L548.5,202.9 L548.8,202.9 L549.0,202.8 L549.2,202.8 L549.5,202.7 L549.8,202.6 L550.0,202.6 L550.2,202.5 L550.5,202.5 L550.8,202.4 L551.0,202.4 L551.2,202.3 L551.5,202.3 L551.8,202.2 L552.0,202.2 L552.2,202.1 L552.5,202.1 L552.8,202.1 L553.0,202.0 L553.1,202.0 L553.2,202.0 L553.5,201.9 L553.8,201.9 L554.0,201.9 L554.2,201.9 L554.5,201.9 L554.8,201.8 L555.0,201.8 L555.2,201.8 L555.5,201.8 L555.8,201.7 L556.0,201.7 L556.2,201.6 L556.5,201.6 L556.7,201.5 L556.8,201.5 L557.0,200.5 L557.2,198.9 L557.5,197.5 L557.7,197.0 L557.8,197.0 L558.0,197.9 L558.2,199.5 L558.5,200.9 L558.7,201.3 L558.8,201.3 L559.0,201.3 L559.2,201.3 L559.5,201.3 L559.8,201.3 L560.0,201.2 L560.2,201.2 L560.5,201.2 L560.8,201.2 L561.0,201.2 L561.2,201.1 L561.5,201.1 L561.8,201.1 L562.0,201.0 L562.2,201.0 L562.5,201.0 L562.8,200.9 L563.0,200.9 L563.2,200.9 L563.5,200.8 L563.8,200.8 L564.0,200.8 L564.2,200.8 L564.5,200.7 L564.8,200.7 L565.0,200.7 L565.2,200.7 L565.5,200.7 L565.8,200.6 L566.0,200.6 L566.2,200.6 L566.5,200.6 L566.8,200.6 L567.0,200.6 L567.2,200.5 L567.5,200.5 L567.8,200.5 L568.0,200.5 L568.2,200.5 L568.5,200.5 L568.8,200.5 L569.0,200.4 L569.2,200.4 L569.5,200.4 L569.8,200.4 L570.0,200.4 L570.2,200.4 L570.5,200.3 L570.8,200.3 L571.0,200.3 L571.2,200.3 L571.5,200.3 L571.8,200.3 L572.0,200.3 L572.2,200.2 L572.5,200.2 L572.8,200.2 L573.0,200.2 L573.2,200.2 L573.5,200.2 L573.8,200.2 L574.0,200.1 L574.2,200.1 L574.5,200.1 L574.8,200.1 L575.0,200.1 L575.2,200.1 L575.5,200.1 L575.8,200.1 L576.0,200.0 L576.2,200.0 L576.5,200.0 L576.8,200.0 L577.0,200.0 L577.2,200.0 L577.5,200.0 L577.8,200.0 L578.0,199.9 L578.2,199.9 L578.5,199.9 L578.8,199.9 L579.0,199.9 L579.2,199.9 L579.5,199.9 L579.8,199.9 L580.0,199.8 L580.2,199.8 L580.5,199.8 L580.8,199.8 L581.0,199.8 L581.2,199.8 L581.5,199.8 L581.8,199.8 L582.0,199.8 L582.2,199.7 L582.5,199.7 L582.8,199.7 L583.0,199.7 L583.2,199.7 L583.5,199.7 L583.8,199.7 L584.0,199.7 L584.2,199.7 L584.5,199.6 L584.8,199.6 L585.0,199.6 L585.2,199.6 L585.5,199.6 L585.8,199.6 L586.0,199.6 L586.2,199.6 L586.5,199.6 L586.8,199.6 L587.0,199.5 L587.2,199.5 L587.5,199.5 L587.8,199.5 L588.0,199.5 L588.2,199.5 L588.5,199.5 L588.8,199.5 L589.0,199.5 L589.2,199.5 L589.5,199.4 L589.8,199.4 L590.0,199.4 L590.2,199.4 L590.5,199.4 L590.8,199.4 L591.0,199.4 L591.2,199.4 L591.5,199.4 L591.8,199.4 L592.0,199.4 L592.2,199.3 L592.5,199.3 L592.8,199.3 L593.0,199.3 L593.2,199.3 L593.5,199.3 L593.8,199.3 L594.0,199.3 L594.2,199.3 L594.5,199.3 L594.8,199.3 L595.0,199.2 L595.2,199.2 L595.5,199.2 L595.8,199.2 L596.0,199.2 L596.2,199.2 L596.5,199.2 L596.8,199.2 L597.0,199.2 L597.2,199.2 L597.5,199.2 L597.8,199.2 L598.0,199.2 L598.2,199.1 L598.5,199.1 L598.8,199.1 L599.0,199.1 L599.2,199.1 L599.5,199.1 L599.8,199.1 L600.0,199.1 L600.2,199.1 L600.5,199.1 L600.8,199.1 L601.0,199.1 L601.2,199.1 L601.5,199.1 L601.8,199.0 L602.0,199.0 L602.2,199.0 L602.5,199.0 L602.8,199.0 L603.0,199.0 L603.2,199.0 L603.5,199.0 L603.8,199.0 L604.0,199.0 L604.2,199.0 L604.5,199.0 L604.8,199.0 L605.0,199.0 L605.2,199.0 L605.5,199.0 L605.8,198.9 L606.0,198.9 L606.2,198.9 L606.5,198.9 L606.8,198.9 L607.0,198.9 L607.2,198.9 L607.5,198.9 L607.8,198.9 L608.0,198.9 L608.2,198.9 L608.5,198.9 L608.8,198.9 L609.0,198.9 L609.2,198.9 L609.5,198.9 L609.8,198.9 L610.0,198.9 L610.2,198.9 L610.5,198.8 L610.8,198.8 L611.0,198.8 L611.2,198.8 L611.5,198.8 L611.8,198.8 L612.0,198.8 L612.2,198.8 L612.5,198.8 L612.8,198.8 L613.0,198.8 L613.2,198.8 L613.5,198.8 L613.8,198.8 L614.0,198.8 L614.2,198.8 L614.5,198.8 L614.8,198.8 L615.0,198.8 L615.2,198.7 L615.5,198.7 L615.8,198.7 L616.0,198.7 L616.2,198.7 L616.5,198.7 L616.8,198.7 L617.0,198.7 L617.2,198.7 L617.5,198.7 L617.8,198.7 L618.0,198.7 L618.2,198.7 L618.5,198.7 L618.8,198.7 L619.0,198.7 L619.2,198.7 L619.5,198.7 L619.8,198.7 L620.0,198.7 L620.2,198.6 L620.5,198.6 L620.8,198.6 L621.0,198.6 L621.2,198.6 L621.5,198.6 L621.8,198.6 L622.0,198.6 L622.2,198.6 L622.5,198.6 L622.8,198.6 L623.0,198.6 L623.2,198.6 L623.5,198.6 L623.8,198.6 L624.0,198.6 L624.2,198.6 L624.5,198.5 L624.8,198.5 L625.0,198.5 L625.2,198.5 L625.5,198.5 L625.8,198.5 L626.0,198.5 L626.2,198.5 L626.5,198.5 L626.8,198.5 L627.0,198.5 L627.2,198.5 L627.5,198.5 L627.8,198.5 L628.0,198.5 L628.2,198.4 L628.5,198.4 L628.8,198.4 L629.0,198.4 L629.2,198.4 L629.5,198.4 L629.8,198.4 L630.0,198.4 L630.2,198.4 L630.5,198.4 L630.8,198.4 L631.0,198.4 L631.2,198.4 L631.5,198.4 L631.8,198.3 L632.0,198.3 L632.2,198.3 L632.5,198.3 L632.8,198.3 L633.0,198.3 L633.2,198.3 L633.5,198.3 L633.8,198.3 L634.0,198.3 L634.2,198.3 L634.5,198.2 L634.8,198.2 L635.0,198.2 L635.2,198.2 L635.5,198.2 L635.8,198.2 L636.0,198.2 L636.2,198.2 L636.5,198.2 L636.8,198.2 L637.0,198.2 L637.2,198.2 L637.5,198.1 L637.8,198.1 L638.0,198.1 L638.2,198.1 L638.5,198.1 L638.8,198.1 L639.0,198.1 L639.2,198.1 L639.5,198.1 L639.8,198.1 L640.0,198.1 L640.2,198.1 L640.5,198.0 L640.8,198.0 L641.0,198.0 L641.2,198.0 L641.5,198.0 L641.8,198.0 L642.0,198.0 L642.2,198.0 L642.5,198.0 L642.8,198.0 L643.0,198.0 L643.2,197.9 L643.5,197.9 L643.8,197.9 L644.0,197.9 L644.2,197.9 L644.5,197.9 L644.8,197.9 L645.0,197.9 L645.2,197.9 L645.5,197.8 L645.8,197.8 L646.0,197.8 L646.2,197.8 L646.5,197.8 L646.8,197.8 L647.0,197.8 L647.2,197.8 L647.5,197.8 L647.8,197.7 L648.0,197.7 L648.2,197.7 L648.5,197.7 L648.8,197.7 L649.0,197.7 L649.2,197.7 L649.5,197.6 L649.8,197.6 L650.0,197.6 L650.2,197.6 L650.5,197.6 L650.8,197.6 L651.0,197.5 L651.2,197.5 L651.5,197.5 L651.8,197.5 L652.0,197.5 L652.2,197.5 L652.5,197.4 L652.8,197.4 L653.0,197.4 L653.2,197.4 L653.5,197.4 L653.8,197.3 L654.0,197.3 L654.2,197.3 L654.5,197.3 L654.8,197.3 L655.0,197.2 L655.2,197.2 L655.5,197.2 L655.8,197.2 L656.0,197.2 L656.2,197.1 L656.5,197.1 L656.8,197.1 L657.0,197.1 L657.2,197.0 L657.5,197.0 L657.8,197.0 L658.0,197.0 L658.2,196.9 L658.5,196.9 L658.8,196.9 L659.0,196.8 L659.2,196.7 L659.5,196.7 L659.8,196.6 L660.0,196.5 L660.2,196.4 L660.5,196.3 L660.8,196.2 L661.0,196.1 L661.2,196.0 L661.5,195.9 L661.8,195.8 L662.0,195.7 L662.2,195.7 L662.5,195.6 L662.8,195.5 L663.0,195.5 L663.2,195.5 L663.3,195.5 L663.5,195.5 L663.8,195.5 L664.0,195.6 L664.2,195.6 L664.5,195.7 L664.8,195.7 L665.0,195.8 L665.2,195.9 L665.5,196.0 L665.8,196.1 L666.0,196.2 L666.2,196.2 L666.5,196.3 L666.8,196.4 L667.0,196.5 L667.2,196.6 L667.5,196.6 L667.8,196.7 L668.0,196.7 L668.2,196.7 L668.5,196.8 L668.8,196.8 L669.0,196.8 L669.2,196.8 L669.5,196.9 L669.8,196.9 L670.0,196.9 L670.2,196.9 L670.5,197.0 L670.8,197.0 L671.0,197.0 L671.2,197.0 L671.5,197.1 L671.8,197.1 L672.0,197.1 L672.2,197.1 L672.5,197.1 L672.8,197.2 L673.0,197.2 L673.2,197.2 L673.5,197.2 L673.8,197.2 L674.0,197.2 L674.2,197.2 L674.5,197.2 L674.8,197.3 L675.0,197.3 L675.2,197.3 L675.5,197.3 L675.8,197.3 L676.0,197.3 L676.2,197.3 L676.5,197.3 L676.8,197.3 L676.8,197.3" stroke="#4a4a4a"/>
<path d="M410.0,160.5 L410.2,160.5 L410.5,160.5 L410.8,160.5 L411.0,160.4 L411.2,160.4 L411.5,160.4 L411.8,160.4 L412.0,160.4 L412.2,160.4 L412.5,160.4 L412.8,160.3 L413.0,160.3 L413.2,160.3 L413.5,160.3 L413.8,160.3 L414.0,160.3 L414.2,160.2 L414.5,160.2 L414.8,160.2 L415.0,160.2 L415.2,160.2 L415.5,160.1 L415.8,160.1 L416.0,160.1 L416.2,160.1 L416.5,160.1 L416.8,160.0 L417.0,160.0 L417.2,160.0 L417.5,160.0 L417.8,160.0 L418.0,159.9 L418.2,159.9 L418.5,159.9 L418.8,159.9 L419.0,159.9 L419.2,159.8 L419.5,159.8 L419.8,159.8 L420.0,159.8 L420.2,159.8 L420.5,159.7 L420.8,159.7 L421.0,159.7 L421.2,159.7 L421.5,159.6 L421.8,159.6 L421.9,159.6 L422.0,159.6 L422.2,159.6 L422.5,159.5 L422.8,159.5 L423.0,159.5 L423.2,159.5 L423.5,159.5 L423.8,159.4 L424.0,159.4 L424.2,159.4 L424.5,159.4 L424.8,159.3 L425.0,159.3 L425.2,159.3 L425.5,159.3 L425.8,159.2 L426.0,159.2 L426.2,159.2 L426.5,159.2 L426.8,159.1 L427.0,159.1 L427.2,159.1 L427.5,159.1 L427.8,159.0 L428.0,159.0 L428.2,159.0 L428.5,158.9 L428.8,158.9 L429.0,158.9 L429.2,158.9 L429.5,158.8 L429.8,158.8 L430.0,158.8 L430.2,158.7 L430.5,158.7 L430.8,158.7 L431.0,158.6 L431.2,158.6 L431.5,158.6 L431.8,158.5 L432.0,158.5 L432.2,158.5 L432.5,158.4 L432.8,158.4 L433.0,158.4 L433.2,158.3 L433.5,158.3 L433.8,158.3 L434.0,158.2 L434.2,158.2 L434.5,158.1 L434.8,158.1 L435.0,158.1 L435.2,158.0 L435.5,158.0 L435.8,157.9 L436.0,157.9 L436.2,157.8 L436.5,157.8 L436.8,157.8 L437.0,157.7 L437.2,157.7 L437.5,157.6 L437.8,157.5 L438.0,157.5 L438.2,157.4 L438.5,157.4 L438.8,157.3 L439.0,157.2 L439.2,157.2 L439.5,157.1 L439.8,157.0 L440.0,157.0 L440.2,156.9 L440.5,156.8 L440.8,156.7 L441.0,156.6 L441.2,156.6 L441.5,156.5 L441.8,156.4 L442.0,156.3 L442.2,156.2 L442.5,156.1 L442.8,156.1 L443.0,156.0 L443.2,155.9 L443.5,155.8 L443.8,155.7 L444.0,155.6 L444.2,155.5 L444.5,155.4 L444.8,155.3 L445.0,155.2 L445.2,155.1 L445.5,155.0 L445.8,154.9 L446.0,154.8 L446.2,154.7 L446.5,154.6 L446.8,154.5 L447.0,154.4 L447.2,154.3 L447.4,154.2 L447.5,154.2 L447.8,154.0 L448.0,153.9 L448.2,153.8 L448.5,153.7 L448.8,153.6 L449.0,153.5 L449.2,153.4 L449.5,153.2 L449.8,153.1 L450.0,153.0 L450.2,152.8 L450.5,152.7 L450.8,152.6 L451.0,152.4 L451.2,152.3 L451.5,152.2 L451.8,152.0 L452.0,151.9 L452.2,151.7 L452.5,151.6 L452.8,151.4 L453.0,151.3 L453.2,151.1 L453.5,150.9 L453.8,150.8 L454.0,150.6 L454.2,150.4 L454.5,150.3 L454.8,150.1 L455.0,149.9 L455.2,149.7 L455.5,149.5 L455.8,149.4 L456.0,149.2 L456.2,149.0 L456.5,148.8 L456.6,148.7 L456.8,148.6 L457.0,148.4 L457.2,148.2 L457.5,148.0 L457.8,147.8 L458.0,147.6 L458.2,147.4 L458.5,147.2 L458.8,146.9 L459.0,146.7 L459.2,146.5 L459.5,146.3 L459.8,146.0 L460.0,145.8 L460.2,145.5 L460.5,145.3 L460.8,145.0 L461.0,144.7 L461.2,144.4 L461.5,144.1 L461.8,143.8 L462.0,143.5 L462.2,143.1 L462.5,142.8 L462.8,142.4 L463.0,142.0 L463.2,141.6 L463.5,141.2 L463.8,140.8 L463.9,140.5 L464.0,140.3 L464.2,139.8 L464.5,139.1 L464.8,138.4 L465.0,137.6 L465.2,136.7 L465.5,135.8 L465.7,135.0 L465.8,134.8 L466.0,133.7 L466.2,132.4 L466.5,131.0 L466.8,129.5 L467.0,127.8 L467.2,126.0 L467.5,124.0 L467.8,121.1 L468.0,117.5 L468.2,114.8 L468.4,114.2 L468.5,115.1 L468.8,121.6 L468.9,125.0 L469.0,126.5 L469.2,129.9 L469.5,131.5 L469.8,131.2 L470.0,130.5 L470.2,129.4 L470.5,128.1 L470.8,126.6 L471.0,125.0 L471.2,123.3 L471.5,121.2 L471.8,118.7 L472.0,115.9 L472.2,112.6 L472.5,109.0 L472.8,104.9 L472.8,104.0 L473.0,99.5 L473.2,92.0 L473.5,83.3 L473.8,74.6 L473.9,70.0 L474.0,67.0 L474.2,58.9 L474.5,51.1 L474.8,45.1 L474.9,43.0 L475.0,42.1 L475.2,40.1 L475.5,38.6 L475.8,37.7 L475.8,37.6 L476.0,37.2 L476.2,36.8 L476.5,36.5 L476.6,36.5 L476.8,36.5 L477.0,36.8 L477.2,37.1 L477.5,37.6 L477.8,38.3 L478.0,39.6 L478.2,41.5 L478.4,43.0 L478.5,44.7 L478.8,53.3 L479.0,66.8 L479.2,80.0 L479.2,83.9 L479.5,113.7 L479.7,140.0 L479.8,146.5 L480.0,183.7 L480.2,198.7 L480.2,198.6 L480.5,195.4 L480.8,190.0 L481.0,185.0 L481.2,181.3 L481.5,177.9 L481.8,174.6 L482.0,171.4 L482.2,168.2 L482.5,165.0 L482.8,161.8 L483.0,158.8 L483.2,155.8 L483.5,152.9 L483.8,149.9 L484.0,146.8 L484.2,143.5 L484.5,139.8 L484.8,135.9 L484.8,135.0 L485.0,131.2 L485.2,125.6 L485.5,119.4 L485.8,112.6 L486.0,105.6 L486.2,98.6 L486.5,91.9 L486.8,85.6 L487.0,80.0 L487.2,74.9 L487.5,69.9 L487.8,65.0 L488.0,60.5 L488.2,56.3 L488.5,52.6 L488.7,50.0 L488.8,49.4 L489.0,46.3 L489.2,43.2 L489.5,40.2 L489.8,37.7 L490.0,35.8 L490.2,34.7 L490.4,34.5 L490.5,34.5 L490.8,34.8 L491.0,35.3 L491.2,36.0 L491.5,37.0 L491.8,40.0 L492.0,46.3 L492.2,54.5 L492.4,60.0 L492.5,65.2 L492.8,85.2 L493.0,102.0 L493.1,104.0 L493.2,99.8 L493.5,81.1 L493.8,62.3 L493.8,60.0 L494.0,52.4 L494.2,44.2 L494.5,38.9 L494.6,38.0 L494.8,37.2 L495.0,36.2 L495.2,35.3 L495.5,34.6 L495.8,34.1 L496.0,33.9 L496.2,33.8 L496.2,33.8 L496.5,33.8 L496.8,33.9 L497.0,34.1 L497.2,34.2 L497.5,34.4 L497.8,34.7 L498.0,34.9 L498.2,35.2 L498.5,35.4 L498.8,35.7 L499.0,36.0 L499.2,36.3 L499.5,36.6 L499.8,37.0 L500.0,37.5 L500.2,37.9 L500.5,38.4 L500.8,38.9 L501.0,39.5 L501.2,40.0 L501.5,40.6 L501.8,41.2 L502.0,41.7 L502.2,42.3 L502.5,42.9 L502.8,43.5 L503.0,44.0 L503.2,44.5 L503.5,45.0 L503.8,45.5 L504.0,46.0 L504.2,46.5 L504.5,47.0 L504.8,47.6 L505.0,48.2 L505.2,48.8 L505.5,49.5 L505.8,50.3 L505.8,50.5 L506.0,51.2 L506.2,52.3 L506.5,53.5 L506.8,54.9 L507.0,56.5 L507.2,58.2 L507.5,60.0 L507.8,62.0 L508.0,64.2 L508.2,66.7 L508.5,69.4 L508.8,72.3 L509.0,75.5 L509.2,79.0 L509.5,82.8 L509.8,86.9 L510.0,91.3 L510.2,96.0 L510.3,97.0 L510.5,101.5 L510.8,108.3 L511.0,116.3 L511.2,125.5 L511.5,135.7 L511.6,140.0 L511.8,148.4 L512.0,165.4 L512.2,175.0 L512.2,176.4 L512.5,182.6 L512.8,187.8 L513.0,192.1 L513.2,195.7 L513.5,198.7 L513.8,201.1 L513.9,202.4 L514.0,203.2 L514.2,205.0 L514.5,206.7 L514.8,208.1 L515.0,209.3 L515.2,210.3 L515.5,211.0 L515.8,211.6 L516.0,212.2 L516.2,212.7 L516.5,213.2 L516.8,213.6 L517.0,213.9 L517.2,214.1 L517.5,214.2 L517.6,214.2 L517.8,214.2 L518.0,214.2 L518.2,214.1 L518.5,214.0 L518.8,213.9 L519.0,213.8 L519.2,213.7 L519.5,213.5 L519.8,213.4 L520.0,213.2 L520.2,213.1 L520.5,212.9 L520.8,212.7 L521.0,212.6 L521.2,212.4 L521.5,212.3 L521.8,212.1 L522.0,212.0 L522.2,211.9 L522.5,211.8 L522.8,211.7 L523.0,211.6 L523.2,211.5 L523.5,211.4 L523.8,211.2 L524.0,211.1 L524.2,211.0 L524.5,210.9 L524.8,210.8 L525.0,210.7 L525.2,210.6 L525.5,210.5 L525.8,210.4 L526.0,210.3 L526.2,210.2 L526.5,210.1 L526.8,210.0 L527.0,209.9 L527.2,209.8 L527.5,209.7 L527.6,209.7 L527.8,209.6 L528.0,209.5 L528.2,209.4 L528.5,209.3 L528.8,209.2 L529.0,209.1 L529.2,209.0 L529.5,208.9 L529.8,208.8 L530.0,208.7 L530.2,208.5 L530.5,208.4 L530.8,208.3 L531.0,208.2 L531.2,208.1 L531.5,208.0 L531.8,207.9 L532.0,207.7 L532.2,207.6 L532.5,207.5 L532.8,207.4 L533.0,207.3 L533.2,207.2 L533.5,207.1 L533.8,207.0 L534.0,206.8 L534.2,206.7 L534.5,206.6 L534.8,206.5 L535.0,206.4 L535.2,206.3 L535.5,206.2 L535.8,206.1 L536.0,206.0 L536.2,205.9 L536.5,205.8 L536.8,205.7 L537.0,205.6 L537.2,205.5 L537.5,205.4 L537.8,205.3 L538.0,205.3 L538.2,205.2 L538.5,205.1 L538.8,205.0 L539.0,204.9 L539.2,204.9 L539.5,204.8 L539.8,204.7 L540.0,204.6 L540.2,204.6 L540.5,204.5 L540.8,204.4 L541.0,204.3 L541.2,204.3 L541.5,204.2 L541.8,204.1 L542.0,204.0 L542.2,204.0 L542.5,203.9 L542.8,203.8 L543.0,203.7 L543.2,203.7 L543.5,203.6 L543.8,203.5 L544.0,203.5 L544.2,203.4 L544.5,203.3 L544.8,203.3 L545.0,203.2 L545.2,203.1 L545.5,203.1 L545.8,203.0 L546.0,202.9 L546.2,202.9 L546.5,202.8 L546.8,202.8 L547.0,202.7 L547.2,202.6 L547.5,202.6 L547.8,202.5 L548.0,202.5 L548.2,202.4 L548.5,202.4 L548.8,202.3 L549.0,202.2 L549.2,202.2 L549.5,202.1 L549.8,202.1 L550.0,202.0 L550.2,202.0 L550.5,201.9 L550.8,201.9 L551.0,201.9 L551.2,201.8 L551.5,201.8 L551.8,201.7 L552.0,201.7 L552.2,201.6 L552.5,201.6 L552.8,201.6 L553.0,201.5 L553.1,201.5 L553.2,201.5 L553.5,201.4 L553.8,201.4 L554.0,201.4 L554.2,201.3 L554.5,201.3 L554.8,201.3 L555.0,201.2 L555.2,201.2 L555.5,201.2 L555.8,201.1 L556.0,201.1 L556.2,201.1 L556.5,201.0 L556.8,201.0 L557.0,201.0 L557.2,200.9 L557.5,200.9 L557.8,200.9 L558.0,200.9 L558.2,200.8 L558.5,200.8 L558.8,200.8 L559.0,200.7 L559.2,200.7 L559.5,200.7 L559.8,200.7 L560.0,200.6 L560.2,200.6 L560.5,200.6 L560.8,200.6 L561.0,200.5 L561.2,200.5 L561.5,200.5 L561.8,200.5 L562.0,200.4 L562.2,200.4 L562.5,200.4 L562.8,200.4 L563.0,200.4 L563.2,200.3 L563.5,200.3 L563.8,200.3 L564.0,200.3 L564.2,200.3 L564.5,200.2 L564.8,200.2 L565.0,200.2 L565.2,200.2 L565.5,200.2 L565.8,200.1 L566.0,200.1 L566.2,200.1 L566.5,200.1 L566.8,200.1 L567.0,200.1 L567.2,200.0 L567.5,200.0 L567.8,200.0 L568.0,200.0 L568.2,200.0 L568.5,200.0 L568.8,199.9 L569.0,199.9 L569.2,199.9 L569.5,199.9 L569.8,199.9 L570.0,199.9 L570.2,199.9 L570.5,199.8 L570.8,199.8 L571.0,199.8 L571.2,199.8 L571.5,199.8 L571.8,199.8 L572.0,199.8 L572.2,199.7 L572.5,199.7 L572.8,199.7 L573.0,199.7 L573.2,199.7 L573.5,199.7 L573.8,199.7 L574.0,199.6 L574.2,199.6 L574.5,199.6 L574.8,199.6 L575.0,199.6 L575.2,199.6 L575.5,199.6 L575.8,199.5 L576.0,199.5 L576.2,199.5 L576.5,199.5 L576.8,199.5 L577.0,199.5 L577.2,199.5 L577.5,199.5 L577.8,199.4 L578.0,199.4 L578.2,199.4 L578.5,199.4 L578.8,199.4 L579.0,199.4 L579.2,199.4 L579.5,199.4 L579.8,199.3 L580.0,199.3 L580.2,199.3 L580.5,199.3 L580.8,199.3 L581.0,199.3 L581.2,199.3 L581.5,199.3 L581.8,199.3 L582.0,199.2 L582.2,199.2 L582.5,199.2 L582.8,199.2 L583.0,199.2 L583.2,199.2 L583.5,199.2 L583.8,199.2 L584.0,199.2 L584.2,199.1 L584.5,199.1 L584.8,199.1 L585.0,199.1 L585.2,199.1 L585.5,199.1 L585.8,199.1 L586.0,199.1 L586.2,199.1 L586.5,199.1 L586.8,199.0 L587.0,199.0 L587.2,199.0 L587.5,199.0 L587.8,199.0 L588.0,199.0 L588.2,199.0 L588.5,199.0 L588.8,199.0 L589.0,199.0 L589.2,199.0 L589.5,198.9 L589.8,198.9 L590.0,198.9 L590.2,198.9 L590.5,198.9 L590.8,198.9 L591.0,198.9 L591.2,198.9 L591.5,198.9 L591.8,198.9 L592.0,198.9 L592.2,198.8 L592.5,198.8 L592.8,198.8 L593.0,198.8 L593.2,198.8 L593.5,198.8 L593.8,198.8 L594.0,198.8 L594.2,198.8 L594.5,198.8 L594.8,198.8 L595.0,198.7 L595.2,198.7 L595.5,198.7 L595.8,198.7 L596.0,198.7 L596.2,198.7 L596.5,198.7 L596.8,198.7 L597.0,198.7 L597.2,198.7 L597.5,198.7 L597.8,198.7 L598.0,198.7 L598.2,198.6 L598.5,198.6 L598.8,198.6 L599.0,198.6 L599.2,198.6 L599.5,198.6 L599.8,198.6 L600.0,198.6 L600.2,198.6 L600.5,198.6 L600.8,198.6 L601.0,198.6 L601.2,198.6 L601.5,198.6 L601.8,198.5 L602.0,198.5 L602.2,198.5 L602.5,198.5 L602.8,198.5 L603.0,198.5 L603.2,198.5 L603.5,198.5 L603.8,198.5 L604.0,198.5 L604.2,198.5 L604.5,198.5 L604.8,198.5 L605.0,198.5 L605.2,198.5 L605.5,198.4 L605.8,198.4 L606.0,198.4 L606.2,198.4 L606.5,198.4 L606.8,198.4 L607.0,198.4 L607.2,198.4 L607.5,198.4 L607.8,198.4 L608.0,198.4 L608.2,198.4 L608.5,198.4 L608.8,198.4 L609.0,198.4 L609.2,198.4 L609.5,198.4 L609.8,198.4 L610.0,198.3 L610.2,198.3 L610.5,198.3 L610.8,198.3 L611.0,198.3 L611.2,198.3 L611.5,198.3 L611.8,198.3 L612.0,198.3 L612.2,198.3 L612.5,198.3 L612.8,198.3 L613.0,198.3 L613.2,198.3 L613.5,198.3 L613.8,198.3 L614.0,198.3 L614.2,198.3 L614.5,198.3 L614.8,198.2 L615.0,198.2 L615.2,198.2 L615.5,198.2 L615.8,198.2 L616.0,198.2 L616.2,198.2 L616.5,198.2 L616.8,198.2 L617.0,198.2 L617.2,198.2 L617.5,198.2 L617.8,198.2 L618.0,198.2 L618.2,198.2 L618.5,198.2 L618.8,198.2 L619.0,198.2 L619.2,198.2 L619.5,198.1 L619.8,198.1 L620.0,198.1 L620.2,198.1 L620.5,198.1 L620.8,198.1 L621.0,198.1 L621.2,198.1 L621.5,198.1 L621.8,198.1 L622.0,198.1 L622.2,198.1 L622.5,198.1 L622.8,198.1 L623.0,198.1 L623.2,198.1 L623.5,198.1 L623.8,198.1 L624.0,198.0 L624.2,198.0 L624.5,198.0 L624.8,198.0 L625.0,198.0 L625.2,198.0 L625.5,198.0 L625.8,198.0 L626.0,198.0 L626.2,198.0 L626.5,198.0 L626.8,198.0 L627.0,198.0 L627.2,198.0 L627.5,198.0 L627.8,198.0 L628.0,197.9 L628.2,197.9 L628.5,197.9 L628.8,197.9 L629.0,197.9 L629.2,197.9 L629.5,197.9 L629.8,197.9 L630.0,197.9 L630.2,197.9 L630.5,197.9 L630.8,197.9 L631.0,197.9 L631.2,197.9 L631.5,197.8 L631.8,197.8 L632.0,197.8 L632.2,197.8 L632.5,197.8 L632.8,197.8 L633.0,197.8 L633.2,197.8 L633.5,197.8 L633.8,197.8 L634.0,197.8 L634.2,197.8 L634.5,197.8 L634.8,197.7 L635.0,197.7 L635.2,197.7 L635.5,197.7 L635.8,197.7 L636.0,197.7 L636.2,197.7 L636.5,197.7 L636.8,197.7 L637.0,197.7 L637.2,197.7 L637.5,197.7 L637.8,197.6 L638.0,197.6 L638.2,197.6 L638.5,197.6 L638.8,197.6 L639.0,197.6 L639.2,197.6 L639.5,197.6 L639.8,197.6 L640.0,197.6 L640.2,197.6 L640.5,197.5 L640.8,197.5 L641.0,197.5 L641.2,197.5 L641.5,197.5 L641.8,197.5 L642.0,197.5 L642.2,197.5 L642.5,197.5 L642.8,197.5 L643.0,197.5 L643.2,197.4 L643.5,197.4 L643.8,197.4 L644.0,197.4 L644.2,197.4 L644.5,197.4 L644.8,197.4 L645.0,197.4 L645.2,197.4 L645.5,197.4 L645.8,197.4 L646.0,197.3 L646.2,197.3 L646.5,197.3 L646.8,197.3 L647.0,197.3 L647.2,197.3 L647.5,197.3 L647.8,197.3 L648.0,197.3 L648.2,197.2 L648.5,197.2 L648.8,197.2 L649.0,197.2 L649.2,197.2 L649.5,197.2 L649.8,197.2 L650.0,197.2 L650.2,197.2 L650.5,197.1 L650.8,197.1 L651.0,197.1 L651.2,197.1 L651.5,197.1 L651.8,197.1 L652.0,197.1 L652.2,197.1 L652.5,197.0 L652.8,197.0 L653.0,197.0 L653.2,197.0 L653.5,197.0 L653.8,197.0 L654.0,197.0 L654.2,196.9 L654.5,196.9 L654.8,196.9 L655.0,196.9 L655.2,196.9 L655.5,196.9 L655.8,196.9 L656.0,196.9 L656.2,196.8 L656.5,196.8 L656.8,196.8 L657.0,196.8 L657.2,196.8 L657.5,196.8 L657.8,196.7 L658.0,196.7 L658.2,196.7 L658.5,196.7 L658.8,196.7 L659.0,196.7 L659.2,196.6 L659.5,196.6 L659.8,196.6 L660.0,196.6 L660.2,196.5 L660.5,196.5 L660.8,196.5 L661.0,196.4 L661.2,196.4 L661.5,196.4 L661.8,196.3 L662.0,196.3 L662.2,196.3 L662.5,196.3 L662.8,196.3 L663.0,196.2 L663.2,196.2 L663.5,196.2 L663.8,196.2 L664.0,196.2 L664.2,196.2 L664.5,196.2 L664.8,196.2 L665.0,196.2 L665.2,196.2 L665.5,196.3 L665.8,196.3 L666.0,196.3 L666.2,196.3 L666.5,196.4 L666.8,196.4 L667.0,196.4 L667.2,196.5 L667.5,196.5 L667.8,196.5 L668.0,196.6 L668.2,196.6 L668.5,196.6 L668.8,196.7 L669.0,196.7 L669.2,196.7 L669.5,196.8 L669.8,196.8 L670.0,196.8 L670.2,196.8 L670.5,196.8 L670.8,196.9 L671.0,196.9 L671.2,196.9 L671.5,196.9 L671.8,196.9 L672.0,197.0 L672.2,197.0 L672.5,197.0 L672.8,197.0 L673.0,197.0 L673.2,197.1 L673.5,197.1 L673.8,197.1 L674.0,197.1 L674.2,197.1 L674.5,197.2 L674.8,197.2 L675.0,197.2 L675.2,197.2 L675.5,197.2 L675.8,197.2 L676.0,197.3 L676.2,197.3 L676.5,197.3 L676.8,197.3 L676.8,197.3" stroke="#f33636"/>
</g>
<!-- inset -->
<rect x="566.7" y="95.9" width="16.7" height="95.9" fill="#e6dc79"/>
<rect x="583.4" y="95.9" width="42.8" height="95.9" fill="#808080"/>
<g stroke="#fb1010" fill="#fb1010" stroke-linecap="butt">
<line x1="532.6" y1="94.2" x2="566.7" y2="121.3" stroke-width="1.60"/><polygon points="567.2,121.7 561.5,120.1 564.4,116.5" stroke="none"/>
<line x1="566.7" y1="121.3" x2="583.4" y2="124.3" stroke-width="1.60"/><polygon points="584.0,124.4 578.3,125.7 579.1,121.2" stroke="none"/>
<line x1="583.4" y1="124.3" x2="566.7" y2="127.8" stroke-width="1.60"/><polygon points="566.1,127.9 570.9,124.6 571.9,129.1" stroke="none"/>
<line x1="583.4" y1="124.3" x2="626.2" y2="142.4" stroke-width="1.60"/><polygon points="626.8,142.6 620.9,142.6 622.7,138.4" stroke="none"/>
<line x1="626.2" y1="142.4" x2="660.4" y2="169.7" stroke-width="1.60"/><polygon points="660.9,170.1 655.2,168.5 658.1,164.9" stroke="none"/>
<line x1="566.7" y1="127.8" x2="583.4" y2="132.3" stroke-width="1.60"/><polygon points="584.0,132.5 578.2,133.3 579.4,128.8" stroke="none"/>
<line x1="583.4" y1="132.3" x2="566.7" y2="135.3" stroke-width="1.60"/><polygon points="566.1,135.4 571.0,132.2 571.8,136.7" stroke="none"/>
<line x1="583.4" y1="132.3" x2="626.2" y2="150.5" stroke-width="1.60"/><polygon points="626.8,150.7 620.9,150.7 622.7,146.5" stroke="none"/>
<line x1="626.2" y1="150.5" x2="660.4" y2="177.4" stroke-width="1.60"/><polygon points="660.9,177.8 655.2,176.2 658.0,172.6" stroke="none"/>
<line x1="566.7" y1="135.3" x2="583.4" y2="139.6" stroke-width="1.60"/><polygon points="584.0,139.7 578.2,140.6 579.3,136.2" stroke="none"/>
<line x1="583.4" y1="139.6" x2="566.7" y2="142.3" stroke-width="1.60"/><polygon points="566.1,142.4 571.1,139.3 571.8,143.8" stroke="none"/>
<line x1="583.4" y1="139.6" x2="626.2" y2="157.7" stroke-width="1.60"/><polygon points="626.8,157.9 620.9,157.9 622.7,153.7" stroke="none"/>
<line x1="626.2" y1="157.7" x2="660.4" y2="185.0" stroke-width="1.60"/><polygon points="660.9,185.4 655.2,183.8 658.1,180.2" stroke="none"/>
<line x1="566.7" y1="142.3" x2="583.4" y2="146.4" stroke-width="1.60"/><polygon points="584.0,146.5 578.2,147.5 579.3,143.0" stroke="none"/>
<line x1="583.4" y1="146.4" x2="566.7" y2="149.3" stroke-width="1.60"/><polygon points="566.1,149.4 571.0,146.2 571.8,150.7" stroke="none"/>
<line x1="583.4" y1="146.4" x2="626.2" y2="164.6" stroke-width="1.60"/><polygon points="626.8,164.8 620.9,164.8 622.7,160.6" stroke="none"/>
<line x1="626.2" y1="164.6" x2="660.4" y2="192.3" stroke-width="1.60"/><polygon points="660.9,192.7 655.2,191.1 658.1,187.5" stroke="none"/>
<line x1="566.7" y1="121.3" x2="533.6" y2="147.5" stroke-width="1.60"/><polygon points="533.1,147.9 535.9,142.7 538.8,146.3" stroke="none"/>
<line x1="566.7" y1="127.8" x2="534.0" y2="153.8" stroke-width="1.60"/><polygon points="533.5,154.2 536.3,149.0 539.2,152.6" stroke="none"/>
<line x1="566.7" y1="135.3" x2="534.0" y2="160.8" stroke-width="1.60"/><polygon points="533.5,161.2 536.4,156.0 539.2,159.7" stroke="none"/>
<line x1="566.7" y1="142.3" x2="534.0" y2="167.9" stroke-width="1.60"/><polygon points="533.5,168.3 536.4,163.1 539.2,166.8" stroke="none"/>
<line x1="566.7" y1="149.3" x2="534.0" y2="175.3" stroke-width="1.60"/><polygon points="533.5,175.7 536.3,170.5 539.2,174.1" stroke="none"/>
<line x1="662.8" y1="115.9" x2="627.6" y2="141.7" stroke-width="1.60"/><polygon points="627.1,142.1 630.1,137.0 632.8,140.7" stroke="none"/>
</g>
<text x="569.0" y="110" font-size="10.3" font-style="italic">M<tspan font-size="7.8" dy="2.2">f</tspan></text>
<text x="596.4" y="110" font-size="10.3" font-style="italic">M<tspan font-size="7.8" dy="2.2">s</tspan></text>
<text transform="translate(578.4,187.4) rotate(-90)" font-size="11" textLength="18.8" lengthAdjust="spacingAndGlyphs">Film</text>
<text transform="translate(592.4,191.5) rotate(-90)" font-size="10.4" textLength="38.4" lengthAdjust="spacingAndGlyphs" style="font-family:'Liberation Sans',sans-serif;font-weight:normal" stroke="#111" stroke-width="0.4">Substrate</text>
<text x="520.2" y="95.8" font-size="10" font-style="italic">E</text><text x="526.2" y="98.2" font-size="7.2" style="font-family:'Liberation Sans',sans-serif">0</text><text x="526.2" y="92.6" font-size="8.6" style="font-family:'Liberation Sans',sans-serif;font-weight:normal">+</text>
<text x="519.8" y="150.2" font-size="10" font-style="italic">E</text><text x="525.8" y="152.6" font-size="7.2" style="font-family:'Liberation Sans',sans-serif">0</text><text x="525.8" y="147.0" font-size="8.6" style="font-family:'Liberation Sans',sans-serif;font-weight:normal">−</text>
<text x="663.2" y="118.2" font-size="10" font-style="italic">E</text><text x="669.2" y="120.6" font-size="7.2" style="font-family:'Liberation Sans',sans-serif">1</text><text x="669.2" y="115.0" font-size="8.6" style="font-family:'Liberation Sans',sans-serif;font-weight:normal">−</text>
<text x="663.2" y="175.8" font-size="10" font-style="italic">E</text><text x="669.2" y="178.2" font-size="7.2" style="font-family:'Liberation Sans',sans-serif">1</text><text x="669.2" y="172.6" font-size="8.6" style="font-family:'Liberation Sans',sans-serif;font-weight:normal">+</text>

<g stroke="#000" stroke-width="1.7" fill="none">
<rect x="402.2" y="6.7" width="281.0" height="226.1"/>
<line x1="399.8" y1="232.7" x2="402.2" y2="232.7"/>
<line x1="397.9" y1="213.9" x2="402.2" y2="213.9"/>
<line x1="399.8" y1="195.1" x2="402.2" y2="195.1"/>
<line x1="397.9" y1="176.2" x2="402.2" y2="176.2"/>
<line x1="399.8" y1="157.4" x2="402.2" y2="157.4"/>
<line x1="397.9" y1="138.5" x2="402.2" y2="138.5"/>
<line x1="399.8" y1="119.7" x2="402.2" y2="119.7"/>
<line x1="397.9" y1="100.9" x2="402.2" y2="100.9"/>
<line x1="399.8" y1="82.0" x2="402.2" y2="82.0"/>
<line x1="397.9" y1="63.2" x2="402.2" y2="63.2"/>
<line x1="399.8" y1="44.3" x2="402.2" y2="44.3"/>
<line x1="397.9" y1="25.5" x2="402.2" y2="25.5"/>
<line x1="399.8" y1="6.7" x2="402.2" y2="6.7"/>
<line x1="402.2" y1="232.8" x2="402.2" y2="237.8"/>
<line x1="436.3" y1="232.8" x2="436.3" y2="235.2"/>
<line x1="456.3" y1="232.8" x2="456.3" y2="235.2"/>
<line x1="470.5" y1="232.8" x2="470.5" y2="235.2"/>
<line x1="481.5" y1="232.8" x2="481.5" y2="235.2"/>
<line x1="490.4" y1="232.8" x2="490.4" y2="235.2"/>
<line x1="498.0" y1="232.8" x2="498.0" y2="235.2"/>
<line x1="504.6" y1="232.8" x2="504.6" y2="235.2"/>
<line x1="510.4" y1="232.8" x2="510.4" y2="235.2"/>
<line x1="515.6" y1="232.8" x2="515.6" y2="237.8"/>
<line x1="549.7" y1="232.8" x2="549.7" y2="235.2"/>
<line x1="569.7" y1="232.8" x2="569.7" y2="235.2"/>
<line x1="583.9" y1="232.8" x2="583.9" y2="235.2"/>
<line x1="594.9" y1="232.8" x2="594.9" y2="235.2"/>
<line x1="603.8" y1="232.8" x2="603.8" y2="235.2"/>
<line x1="611.4" y1="232.8" x2="611.4" y2="235.2"/>
<line x1="618.0" y1="232.8" x2="618.0" y2="235.2"/>
<line x1="623.8" y1="232.8" x2="623.8" y2="235.2"/>
<line x1="629.0" y1="232.8" x2="629.0" y2="237.8"/>
<line x1="663.1" y1="232.8" x2="663.1" y2="235.2"/>
<line x1="683.1" y1="232.8" x2="683.1" y2="235.2"/>
</g>
<g font-size="10.7" text-anchor="end">
<text x="394.8" y="29.0">1.0</text>
<text x="394.8" y="66.7">0.8</text>
<text x="394.8" y="104.4">0.6</text>
<text x="394.8" y="142.0">0.4</text>
<text x="394.8" y="179.7">0.2</text>
<text x="394.8" y="217.4">0.0</text>
</g>
<g font-size="10.7" text-anchor="middle">
<text x="402" y="248.9">100</text>
<text x="515.6" y="248.9">1000</text>
<text x="629.2" y="248.9">10000</text>
</g>
<text transform="translate(409.0,24.7) scale(1.25,1)" font-size="10.4">(b)</text>
<line x1="549.5" y1="23.6" x2="580" y2="23.6" stroke="#4a4a4a" stroke-width="2.2"/>
<line x1="549.5" y1="39.3" x2="580" y2="39.3" stroke="#f33636" stroke-width="2.2"/>
<text x="582.8" y="27.8" font-size="12.7">Sapphire-exp.</text>
<text x="582.8" y="43.5" font-size="12.7">Lorentz-Drude fit</text>
<text x="495.2" y="270.4" font-size="13.1">Frequency (cm<tspan font-size="8.2" dy="-5">-1</tspan><tspan dy="5">)</tspan></text>
<text transform="translate(368.3,143.8) rotate(-90)" font-size="12.7">Reflectance</text>
</svg>
</body></html>
